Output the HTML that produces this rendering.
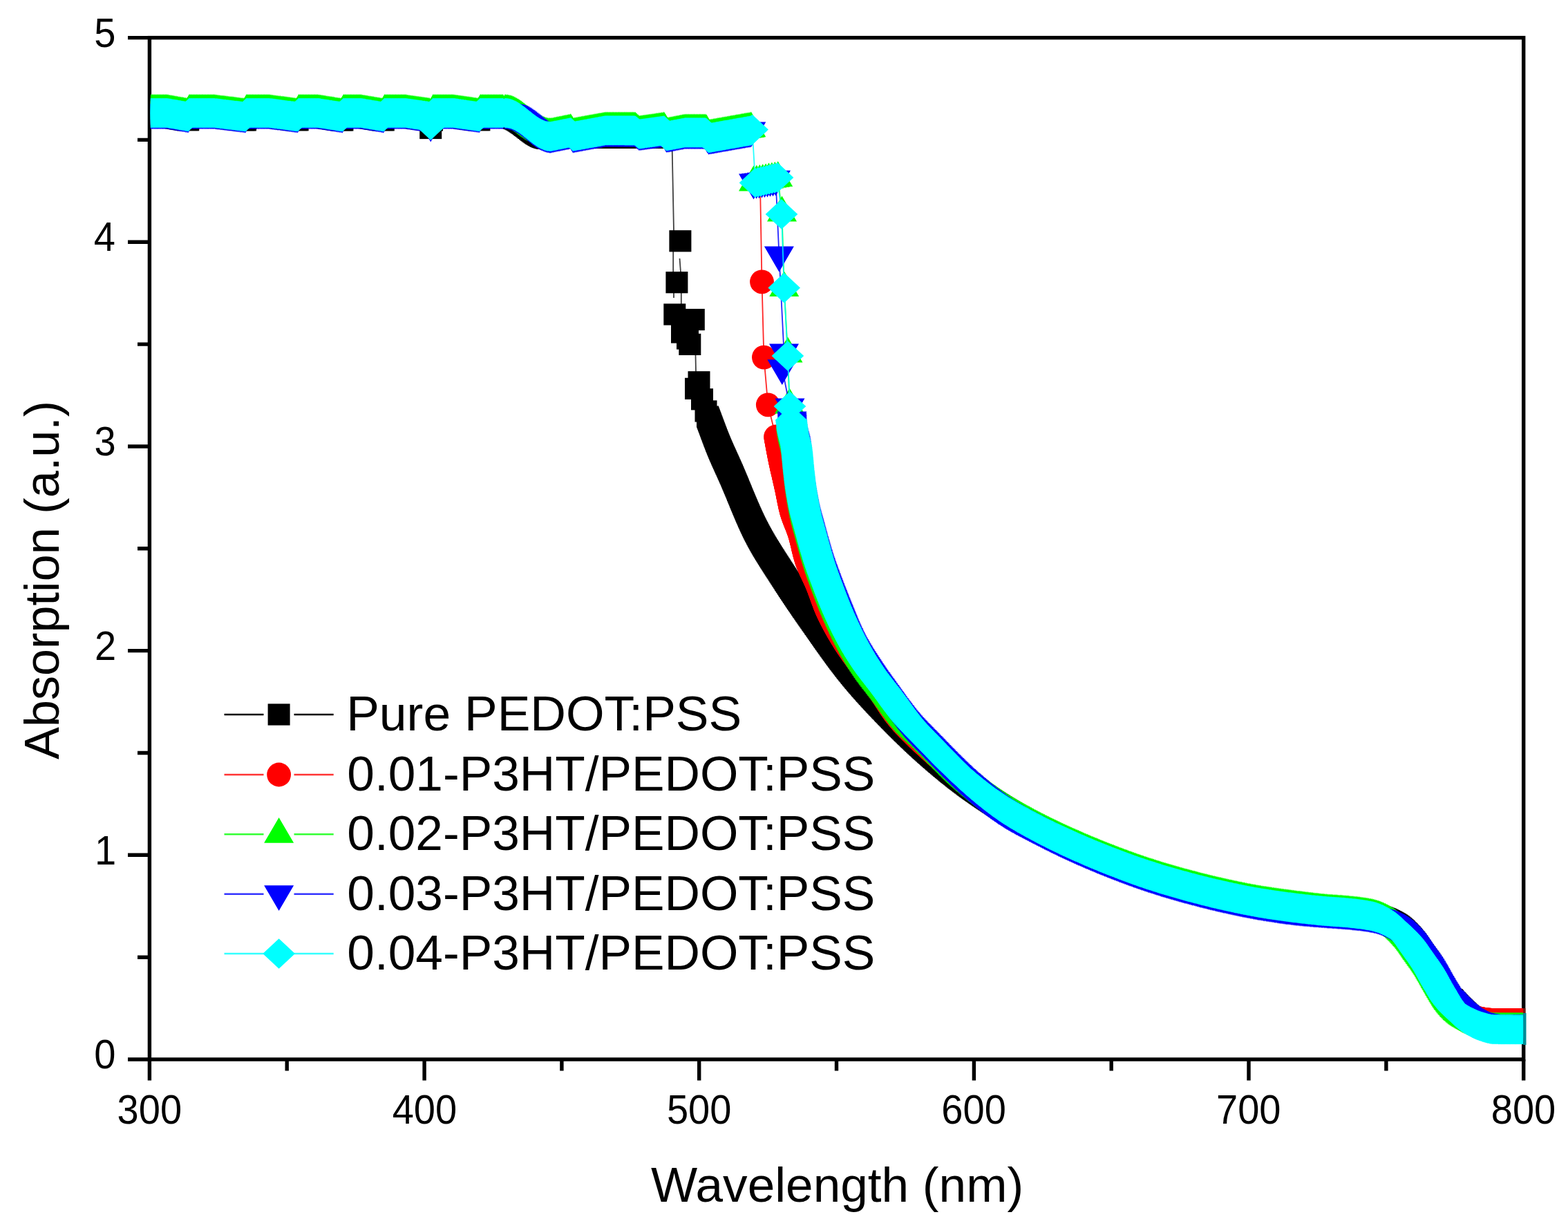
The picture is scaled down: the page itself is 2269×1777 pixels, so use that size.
<!DOCTYPE html>
<html><head><meta charset="utf-8"><title>Absorption spectra</title>
<style>html,body{margin:0;padding:0;background:#fff;overflow:hidden}svg{display:block}</style></head>
<body>
<svg width="2269" height="1777" viewBox="0 0 2269 1777">
<defs>
<marker id="m_black" markerUnits="userSpaceOnUse" markerWidth="60" markerHeight="60" viewBox="-30 -30 60 60" refX="0" refY="0" orient="0" overflow="visible"><g fill="#000"><rect x="-16" y="-15.6" width="32" height="31.2"/></g></marker>
<marker id="m_red" markerUnits="userSpaceOnUse" markerWidth="60" markerHeight="60" viewBox="-30 -30 60 60" refX="0" refY="0" orient="0" overflow="visible"><g fill="#f00"><ellipse rx="17.4" ry="17.4"/></g></marker>
<marker id="m_green" markerUnits="userSpaceOnUse" markerWidth="60" markerHeight="60" viewBox="-30 -30 60 60" refX="0" refY="0" orient="0" overflow="visible"><g fill="#0f0"><path d="M0-24.4L21.5,12.4H-21.5Z"/></g></marker>
<marker id="m_blue" markerUnits="userSpaceOnUse" markerWidth="60" markerHeight="60" viewBox="-30 -30 60 60" refX="0" refY="0" orient="0" overflow="visible"><g fill="#00f"><path d="M0,24.4L21.5-12.4H-21.5Z"/></g></marker>
<marker id="m_cyan" markerUnits="userSpaceOnUse" markerWidth="60" markerHeight="60" viewBox="-30 -30 60 60" refX="0" refY="0" orient="0" overflow="visible"><g fill="#0ff"><path d="M0-21.8L23.3,0L0,21.8L-23.3,0Z"/></g></marker>
<clipPath id="cp"><rect x="217.9" y="54.6" width="1986.2999999999997" height="1478.4"/></clipPath>
</defs>
<rect width="2269" height="1777" fill="#fff"/>
<g stroke="#000" stroke-width="5.4" fill="none" stroke-linecap="butt">
<rect x="216.4" y="54.6" width="1988.2999999999997" height="1478.4"/>
<path d="M216.4,1533v30.5M415.2,1533v16.5M614.1,1533v30.5M812.9,1533v16.5M1011.7,1533v30.5M1210.5,1533v16.5M1409.4,1533v30.5M1608.2,1533v16.5M1807,1533v30.5M2005.9,1533v16.5M2204.7,1533v30.5M216.4,1533h-31.4M216.4,1385.2h-17.4M216.4,1237.3h-31.4M216.4,1089.5h-17.4M216.4,941.6h-31.4M216.4,793.8h-17.4M216.4,646h-31.4M216.4,498.1h-17.4M216.4,350.3h-31.4M216.4,202.4h-17.4M216.4,54.6h-31.4"/>
</g>
<g clip-path="url(#cp)" fill="none" stroke-width="1.8" stroke-opacity=".85">
<path stroke="#000" stroke-opacity=".75" d="M972.6,212L975,334M974.2,364V394M983.5,374L985,394M985.8,424V440M975,424V431M1006.5,514L1007,538"/>
<polyline points="216.4,168.5 218.2,168.5 220,168.5 221.8,168.5 223.6,168.5 225.4,168.5 227.2,168.5 229,168.5 230.8,168.5 232.6,168.5 234.4,168.5 236.2,168.5 238,168.5 239.8,168.5 241.6,168.5 243.4,168.7 245.2,169.1 247,169.4 248.8,169.7 250.6,170 252.4,170.3 254.2,170.6 256,170.9 257.8,171.3 259.6,171.6 261.4,171.9 263.2,172.2 265,172.5 266.8,172.8 268.6,173.2 270.4,173.5 272.2,173.8 274,168.5 275.8,168.5 277.6,168.5 279.4,168.5 281.2,168.5 283,168.5 284.8,168.5 286.6,168.5 288.4,168.5 290.2,168.5 292,168.5 293.8,168.5 295.6,168.5 297.4,168.5 299.2,168.5 301,168.5 302.8,168.5 304.6,168.5 306.4,168.5 308.2,168.5 310,168.5 311.8,168.7 313.6,168.9 315.4,169.1 317.2,169.3 319,169.6 320.8,169.8 322.6,170 324.4,170.2 326.2,170.4 328,170.7 329.8,170.9 331.6,171.1 333.4,171.3 335.2,171.5 337,171.7 338.8,172 340.6,172.2 342.4,172.4 344.2,172.6 346,172.8 347.8,173.1 349.6,173.3 351.4,173.5 353.2,173.7 355,173.9 356.8,168.5 358.6,168.5 360.4,168.5 362.2,168.5 364,168.5 365.8,168.5 367.6,168.5 369.4,168.5 371.2,168.5 373,168.5 374.8,168.5 376.6,168.5 378.4,168.5 380.2,168.5 382,168.5 383.8,168.5 385.6,168.5 387.4,168.5 389.2,168.5 391,168.7 392.8,168.9 394.6,169.1 396.4,169.4 398.2,169.6 400,169.8 401.8,170.1 403.6,170.3 405.4,170.5 407.2,170.8 409,171 410.8,171.2 412.6,171.5 414.4,171.7 416.2,172 418,172.2 419.8,172.4 421.6,172.7 423.4,172.9 425.2,173.1 427,173.4 428.8,173.6 430.6,173.8 432.4,168.5 434.2,168.5 436,168.5 437.8,168.5 439.6,168.5 441.4,168.5 443.2,168.5 445,168.5 446.8,168.5 448.6,168.5 450.4,168.5 452.2,168.5 454,168.5 455.8,168.5 457.6,168.5 459.4,168.5 461.2,168.6 463,168.9 464.8,169.2 466.6,169.5 468.4,169.7 470.2,170 472,170.3 473.8,170.6 475.6,170.9 477.4,171.2 479.2,171.4 481,171.7 482.8,172 484.6,172.3 486.4,172.6 488.2,172.9 490,173.1 491.8,173.4 493.6,173.7 495.4,174 497.2,168.5 499,168.5 500.8,168.5 502.6,168.5 504.4,168.5 506.2,168.5 508,168.5 509.8,168.5 511.6,168.5 513.4,168.5 515.2,168.5 517,168.5 518.8,168.5 520.6,168.5 522.4,168.5 524.2,168.8 526,169.1 527.8,169.4 529.6,169.7 531.4,170 533.2,170.3 535,170.6 536.8,170.9 538.6,171.2 540.4,171.5 542.2,171.8 544,172.1 545.8,172.4 547.6,172.7 549.4,173 551.2,173.3 553,173.6 554.8,173.9 556.6,168.5 558.4,168.5 560.2,168.5 562,168.5 563.8,168.5 565.6,168.5 567.4,168.5 569.2,168.5 571,168.5 572.8,168.5 574.6,168.5 576.4,168.5 578.2,168.5 580,168.5 581.8,168.5 583.6,168.5 585.4,168.5 587.2,168.5 589,168.8 590.8,169.1 592.6,169.3 594.4,169.6 596.2,169.8 598,170.1 599.8,170.4 601.6,170.6 603.4,170.9 605.2,171.1 607,171.4 608.8,171.6 610.6,171.9 612.4,172.2 614.2,172.4 616,172.7 617.8,172.9 619.6,173.2 621.4,173.5 623.2,185.5 625,174 626.8,168.5 628.6,168.5 630.4,168.5 632.2,168.5 634,168.5 635.8,168.5 637.6,168.5 639.4,168.5 641.2,168.5 643,168.5 644.8,168.5 646.6,168.5 648.4,168.5 650.2,168.5 652,168.5 653.8,168.5 655.6,168.5 657.4,168.6 659.2,168.9 661,169.1 662.8,169.4 664.6,169.7 666.4,169.9 668.2,170.2 670,170.4 671.8,170.7 673.6,170.9 675.4,171.2 677.2,171.5 679,171.7 680.8,172 682.6,172.2 684.4,172.5 686.2,172.8 688,173 689.8,173.3 691.6,173.5 693.4,173.8 695.2,168.5 697,168.5 698.8,168.5 700.6,168.5 702.4,168.5 704.2,168.5 706,168.5 707.8,168.5 709.6,168.5 711.4,168.5 713.2,168.5 715,168.5 716.8,168.5 718.6,168.5 720.4,168.5 722.2,168.5 724,168.5 725.8,168.5 727.6,168.5 731,168.5 732.8,168.5 734.6,168.6 736.4,168.9 738.2,169.3 740,169.8 741.8,170.4 743.6,171.1 745.4,171.9 747.2,172.8 749,173.8 750.8,174.9 752.6,176.1 754.4,177.3 756.2,178.6 758,179.9 759.8,181.3 761.6,182.6 763.4,184 765.2,185.4 767,186.8 768.8,188.2 770.6,189.6 772.4,190.9 774.2,192.1 776,193.3 777.8,194.5 779.6,195.5 781.4,196.5 783.2,197.4 785,198.2 786.8,198.8 788.6,199.4 790.4,199.9 792.2,200.2 794,200.4 795.8,200.5 797,199.3 798.8,199.3 800.6,199.3 802.4,199.3 804.2,199.3 806,199.3 807.8,199.3 809.6,199.3 811.4,199.3 813.2,199.3 815,199.3 816.8,199.3 818.6,199.3 820.4,199.3 822.2,199.3 824,199.3 825.8,199.3 827.6,199.3 829.4,199.3 831.2,199.3 833,199.3 834.8,199.3 836.6,199.3 838.4,199.3 840.2,199.3 842,199.3 843.8,199.3 845.6,199.3 847.4,199.3 849.2,199.3 851,199.3 852.8,199.3 854.6,199.3 856.4,199.3 858.2,199.3 860,199.3 861.8,199.3 863.6,199.3 865.4,199.3 867.2,199.3 869,199.3 870.8,199.3 872.6,199.3 874.4,199.3 876.2,199.3 878,199.3 879.8,199.3 881.6,199.3 883.4,199.3 885.2,199.3 887,199.3 888.8,199.3 890.6,199.3 892.4,199.3 894.2,199.3 896,199.3 897.8,199.3 899.6,199.3 901.4,199.3 903.2,199.3 905,199.3 906.8,199.3 908.6,199.3 910.4,199.3 912.2,199.3 914,199.3 915.8,199.3 917.6,199.3 919.4,199.3 921.2,199.3 923,199.3 924.8,199.3 926.6,199.3 928.4,199.3 930.2,199.3 932,199.3 933.8,199.3 935.6,199.3 937.4,199.3 939.2,199.3 941,199.3 942.8,199.3 944.6,199.3 946.4,199.3 948.2,199.3 950,199.3 951.8,199.3 953.6,199.3 955.4,199.3 957.2,199.3 959,199.3 960.8,199.3 962.6,199.3 964.4,199.3 966.2,199.3 968,199.3 969.8,199.3 984.4,348.8 979.4,408.7 976.3,455 1003.8,462.5 987,481 995,490 998.3,498.4 1011.5,552.8 1007,562.4 1016,577.8 1021.5,595 1024,603 1024.6,604.7 1025.3,606.4 1025.9,608.1 1026.5,609.7 1027.2,611.4 1027.8,613.1 1028.4,614.8 1029.1,616.5 1029.7,618.2 1030.3,619.9 1030.9,621.5 1031.6,623.2 1032.2,624.9 1032.8,626.6 1033.5,628.3 1034.1,630 1034.7,631.7 1035.4,633.3 1036,635 1036.7,636.7 1037.3,638.4 1038,640 1038.7,641.7 1039.3,643.4 1040,645 1040.7,646.7 1041.4,648.4 1042.1,650 1042.8,651.7 1043.5,653.3 1044.3,655 1045,656.6 1045.7,658.3 1046.4,659.9 1047.2,661.6 1047.9,663.2 1048.7,664.8 1049.4,666.5 1050.1,668.1 1050.9,669.8 1051.6,671.4 1052.4,673 1053.1,674.7 1053.9,676.3 1054.6,678 1055.3,679.6 1056.1,681.2 1056.8,682.9 1057.5,684.5 1058.3,686.2 1059,687.8 1059.7,689.5 1060.4,691.1 1061.1,692.8 1061.8,694.5 1062.5,696.1 1063.2,697.8 1063.9,699.4 1064.6,701.1 1065.3,702.8 1066,704.4 1066.7,706.1 1067.4,707.7 1068,709.4 1068.7,711.1 1069.4,712.7 1070.1,714.4 1070.8,716.1 1071.5,717.7 1072.1,719.4 1072.8,721.1 1073.5,722.7 1074.2,724.4 1074.9,726.1 1075.6,727.7 1076.3,729.4 1077,731 1077.7,732.7 1078.4,734.4 1079.1,736 1079.8,737.7 1080.5,739.3 1081.2,741 1081.9,742.6 1082.7,744.3 1083.4,745.9 1084.1,747.6 1084.8,749.2 1085.6,750.8 1086.3,752.5 1087.1,754.1 1087.8,755.8 1088.6,757.4 1089.4,759 1090.1,760.6 1090.9,762.3 1091.7,763.9 1092.5,765.5 1093.3,767.1 1094.1,768.7 1095,770.3 1095.8,771.9 1096.6,773.5 1097.5,775.1 1098.3,776.7 1099.2,778.2 1100.1,779.8 1100.9,781.4 1101.8,783 1102.7,784.5 1103.6,786.1 1104.5,787.6 1105.4,789.2 1106.3,790.7 1107.3,792.3 1108.2,793.8 1109.1,795.4 1110.1,796.9 1111,798.4 1112,800 1112.9,801.5 1113.9,803 1114.8,804.6 1115.8,806.1 1116.7,807.6 1117.7,809.1 1118.7,810.6 1119.6,812.1 1120.6,813.7 1121.6,815.2 1122.6,816.7 1123.5,818.2 1124.5,819.7 1125.5,821.2 1126.5,822.7 1127.5,824.2 1128.4,825.7 1129.4,827.3 1130.4,828.8 1131.4,830.3 1132.4,831.8 1133.3,833.3 1134.3,834.8 1135.3,836.3 1136.3,837.8 1137.2,839.4 1138.2,840.9 1139.2,842.4 1140.2,843.9 1141.2,845.4 1142.1,846.9 1143.1,848.4 1144.1,849.9 1145.1,851.4 1146.1,852.9 1147.1,854.4 1148.1,855.9 1149.1,857.4 1150.1,858.9 1151.1,860.4 1152.1,861.9 1153.1,863.4 1154.1,864.9 1155.1,866.4 1156.1,867.9 1157.2,869.3 1158.2,870.8 1159.2,872.3 1160.2,873.8 1161.2,875.3 1162.2,876.8 1163.2,878.3 1164.3,879.7 1165.3,881.2 1166.3,882.7 1167.3,884.2 1168.4,885.7 1169.4,887.1 1170.4,888.6 1171.4,890.1 1172.5,891.6 1173.5,893 1174.5,894.5 1175.6,896 1176.6,897.5 1177.6,898.9 1178.7,900.4 1179.7,901.9 1180.7,903.4 1181.8,904.8 1182.8,906.3 1183.8,907.8 1184.9,909.3 1185.9,910.7 1186.9,912.2 1188,913.7 1189,915.2 1190,916.6 1191.1,918.1 1192.1,919.6 1193.1,921.1 1194.2,922.5 1195.2,924 1196.2,925.5 1197.3,926.9 1198.3,928.4 1199.4,929.9 1200.4,931.3 1201.5,932.8 1202.5,934.3 1203.5,935.7 1204.6,937.2 1205.7,938.7 1206.7,940.1 1207.8,941.6 1208.8,943 1209.9,944.5 1210.9,945.9 1212,947.4 1213.1,948.8 1214.2,950.3 1215.2,951.7 1216.3,953.2 1217.4,954.6 1218.5,956 1219.6,957.5 1220.7,958.9 1221.8,960.3 1222.9,961.8 1224,963.2 1225.1,964.6 1226.2,966 1227.3,967.4 1228.4,968.8 1229.5,970.2 1230.7,971.6 1231.8,973 1232.9,974.4 1234.1,975.8 1235.2,977.2 1236.4,978.6 1237.5,980 1238.7,981.4 1239.8,982.7 1241,984.1 1242.2,985.5 1243.3,986.9 1244.5,988.2 1245.7,989.6 1246.9,990.9 1248,992.3 1249.2,993.6 1250.4,995 1251.6,996.3 1252.8,997.7 1254,999 1255.2,1000.4 1256.4,1001.7 1257.6,1003 1258.8,1004.4 1260.1,1005.7 1261.3,1007 1262.5,1008.4 1263.7,1009.7 1264.9,1011 1266.2,1012.3 1267.4,1013.6 1268.6,1015 1269.8,1016.3 1271.1,1017.6 1272.3,1018.9 1273.5,1020.2 1274.8,1021.5 1276,1022.8 1277.3,1024.1 1278.5,1025.4 1279.8,1026.7 1281,1028 1282.2,1029.3 1283.5,1030.6 1284.7,1031.9 1286,1033.2 1287.3,1034.5 1288.5,1035.8 1289.8,1037.1 1291,1038.4 1292.3,1039.6 1293.5,1040.9 1294.8,1042.2 1296.1,1043.5 1297.3,1044.8 1298.6,1046.1 1299.9,1047.3 1301.1,1048.6 1302.4,1049.9 1303.7,1051.1 1305,1052.4 1306.2,1053.7 1307.5,1054.9 1308.8,1056.2 1310.1,1057.5 1311.4,1058.7 1312.7,1060 1314,1061.2 1315.3,1062.5 1316.6,1063.7 1317.9,1065 1319.2,1066.2 1320.5,1067.5 1321.8,1068.7 1323.1,1069.9 1324.4,1071.2 1325.7,1072.4 1327,1073.6 1328.3,1074.9 1329.6,1076.1 1331,1077.3 1332.3,1078.5 1333.6,1079.7 1334.9,1081 1336.3,1082.2 1337.6,1083.4 1338.9,1084.6 1340.3,1085.8 1341.6,1087 1343,1088.2 1344.3,1089.4 1345.7,1090.6 1347,1091.8 1348.4,1093 1349.7,1094.1 1351.1,1095.3 1352.4,1096.5 1353.8,1097.7 1355.1,1098.9 1356.5,1100 1357.9,1101.2 1359.2,1102.4 1360.6,1103.5 1362,1104.7 1363.4,1105.9 1364.7,1107 1366.1,1108.2 1367.5,1109.3 1368.9,1110.5 1370.3,1111.6 1371.7,1112.8 1373.1,1113.9 1374.4,1115.1 1375.8,1116.2 1377.2,1117.3 1378.6,1118.5 1380.1,1119.6 1381.5,1120.7 1382.9,1121.8 1384.3,1123 1385.7,1124.1 1387.1,1125.2 1388.5,1126.3 1390,1127.4 1391.4,1128.5 1392.8,1129.6 1394.2,1130.7 1395.7,1131.8 1397.1,1132.8 1398.6,1133.9 1400,1135 1401.4,1136.1 1402.9,1137.1 1404.3,1138.2 1405.8,1139.3 1407.3,1140.3 1408.7,1141.4 1410.2,1142.4 1411.6,1143.5 1413.1,1144.5 1414.6,1145.5 1416.1,1146.6 1417.5,1147.6 1419,1148.6 1420.5,1149.7 1422,1150.7 1423.5,1151.7 1425,1152.7 1426.4,1153.7 1427.9,1154.7 1429.4,1155.7 1430.9,1156.7 1432.4,1157.7 1433.9,1158.7 1435.4,1159.7 1436.9,1160.7 1438.5,1161.6 1440,1162.6 1441.5,1163.6 1443,1164.6 1444.5,1165.5 1446,1166.5 1447.6,1167.5 1449.1,1168.4 1450.6,1169.4 1452.1,1170.3 1453.7,1171.3 1455.2,1172.2 1456.7,1173.2 1458.3,1174.1 1459.8,1175 1461.3,1176 1462.9,1176.9 1464.4,1177.8 1466,1178.8 1467.5,1179.7 1469.1,1180.6 1470.6,1181.5 1472.2,1182.4 1473.7,1183.3 1475.3,1184.2 1476.8,1185.1 1478.4,1186 1480,1186.9 1481.5,1187.8 1483.1,1188.7 1484.7,1189.6 1486.2,1190.4 1487.8,1191.3 1489.4,1192.2 1491,1193 1492.6,1193.9 1494.1,1194.8 1495.7,1195.6 1497.3,1196.5 1498.9,1197.3 1500.5,1198.2 1502.1,1199 1503.7,1199.8 1505.3,1200.7 1506.9,1201.5 1508.5,1202.3 1510.1,1203.1 1511.7,1203.9 1513.3,1204.7 1514.9,1205.6 1516.5,1206.4 1518.1,1207.2 1519.7,1208 1521.3,1208.7 1523,1209.5 1524.6,1210.3 1526.2,1211.1 1527.8,1211.9 1529.5,1212.7 1531.1,1213.4 1532.7,1214.2 1534.3,1215 1536,1215.7 1537.6,1216.5 1539.2,1217.3 1540.9,1218 1542.5,1218.8 1544.1,1219.5 1545.8,1220.3 1547.4,1221 1549,1221.8 1550.7,1222.5 1552.3,1223.2 1554,1224 1555.6,1224.7 1557.3,1225.5 1558.9,1226.2 1560.5,1226.9 1562.2,1227.6 1563.8,1228.4 1565.5,1229.1 1567.1,1229.8 1568.8,1230.5 1570.4,1231.2 1572.1,1231.9 1573.8,1232.6 1575.4,1233.3 1577.1,1234 1578.7,1234.7 1580.4,1235.4 1582.1,1236.1 1583.7,1236.8 1585.4,1237.5 1587,1238.2 1588.7,1238.9 1590.4,1239.6 1592,1240.2 1593.7,1240.9 1595.4,1241.6 1597,1242.3 1598.7,1242.9 1600.4,1243.6 1602.1,1244.2 1603.7,1244.9 1605.4,1245.6 1607.1,1246.2 1608.8,1246.9 1610.4,1247.5 1612.1,1248.2 1613.8,1248.8 1615.5,1249.5 1617.2,1250.1 1618.8,1250.8 1620.5,1251.4 1622.2,1252 1623.9,1252.7 1625.6,1253.3 1627.3,1253.9 1629,1254.6 1630.6,1255.2 1632.3,1255.8 1634,1256.4 1635.7,1257.1 1637.4,1257.7 1639.1,1258.3 1640.8,1258.9 1642.5,1259.5 1644.2,1260.1 1645.9,1260.7 1647.6,1261.3 1649.3,1261.9 1651,1262.5 1652.7,1263 1654.4,1263.6 1656.1,1264.2 1657.8,1264.8 1659.5,1265.3 1661.2,1265.9 1662.9,1266.5 1664.6,1267 1666.4,1267.6 1668.1,1268.1 1669.8,1268.7 1671.5,1269.2 1673.2,1269.8 1674.9,1270.3 1676.6,1270.8 1678.4,1271.4 1680.1,1271.9 1681.8,1272.4 1683.5,1272.9 1685.3,1273.5 1687,1274 1688.7,1274.5 1690.4,1275 1692.2,1275.5 1693.9,1276 1695.6,1276.5 1697.3,1277 1699.1,1277.5 1700.8,1278 1702.5,1278.5 1704.3,1279 1706,1279.5 1707.7,1280 1709.5,1280.5 1711.2,1281 1712.9,1281.4 1714.7,1281.9 1716.4,1282.4 1718.1,1282.9 1719.9,1283.3 1721.6,1283.8 1723.4,1284.3 1725.1,1284.7 1726.8,1285.2 1728.6,1285.6 1730.3,1286.1 1732.1,1286.6 1733.8,1287 1735.5,1287.5 1737.3,1287.9 1739,1288.4 1740.8,1288.8 1742.5,1289.3 1744.3,1289.7 1746,1290.1 1747.8,1290.6 1749.5,1291 1751.2,1291.4 1753,1291.8 1754.7,1292.3 1756.5,1292.7 1758.2,1293.1 1760,1293.5 1761.8,1293.9 1763.5,1294.3 1765.3,1294.7 1767,1295.1 1768.8,1295.5 1770.5,1295.9 1772.3,1296.3 1774,1296.7 1775.8,1297.1 1777.6,1297.5 1779.3,1297.9 1781.1,1298.2 1782.8,1298.6 1784.6,1299 1786.4,1299.4 1788.1,1299.7 1789.9,1300.1 1791.6,1300.5 1793.4,1300.9 1795.2,1301.2 1796.9,1301.6 1798.7,1301.9 1800.5,1302.3 1802.2,1302.6 1804,1303 1805.8,1303.3 1807.5,1303.7 1809.3,1304 1811.1,1304.3 1812.8,1304.7 1814.6,1305 1816.4,1305.3 1818.1,1305.6 1819.9,1305.9 1821.7,1306.2 1823.5,1306.5 1825.2,1306.8 1827,1307.1 1828.8,1307.4 1830.6,1307.7 1832.4,1308 1834.1,1308.3 1835.9,1308.6 1837.7,1308.8 1839.5,1309.1 1841.2,1309.4 1843,1309.6 1844.8,1309.9 1846.6,1310.2 1848.4,1310.4 1850.1,1310.7 1851.9,1311 1853.7,1311.2 1855.5,1311.5 1857.3,1311.7 1859.1,1311.9 1860.8,1312.2 1862.6,1312.4 1864.4,1312.6 1866.2,1312.9 1868,1313.1 1869.8,1313.3 1871.6,1313.5 1873.3,1313.7 1875.1,1314 1876.9,1314.2 1878.7,1314.4 1880.5,1314.6 1882.3,1314.7 1884.1,1314.9 1885.9,1315.1 1887.7,1315.3 1889.5,1315.5 1891.2,1315.6 1893,1315.8 1894.8,1316 1896.6,1316.1 1898.4,1316.3 1900.2,1316.5 1902,1316.6 1903.8,1316.8 1905.6,1316.9 1907.4,1317.1 1909.2,1317.2 1911,1317.4 1912.8,1317.5 1914.6,1317.7 1916.4,1317.8 1918.1,1318 1919.9,1318.1 1921.7,1318.3 1923.5,1318.4 1925.3,1318.6 1927.1,1318.7 1928.9,1318.8 1930.7,1319 1932.5,1319.1 1934.3,1319.2 1936.1,1319.4 1937.9,1319.5 1939.7,1319.6 1941.5,1319.7 1943.3,1319.9 1945.1,1320 1946.9,1320.1 1948.7,1320.3 1950.5,1320.4 1952.2,1320.5 1954,1320.7 1955.8,1320.9 1957.6,1321 1959.4,1321.2 1961.2,1321.4 1963,1321.6 1964.8,1321.8 1966.6,1322 1968.4,1322.2 1970.2,1322.4 1971.9,1322.6 1973.7,1322.8 1975.5,1323.1 1977.3,1323.3 1979.1,1323.6 1980.9,1323.9 1982.6,1324.1 1984.4,1324.4 1986.2,1324.8 1987.9,1325.1 1989.7,1325.4 1991.5,1325.8 1993.2,1326.2 1995,1326.7 1996.7,1327.2 1998.4,1327.7 2000.1,1328.3 2001.8,1329 2003.5,1329.6 2005.1,1330.3 2006.8,1331.1 2008.4,1331.9 2010,1332.7 2011.6,1333.5 2013.2,1334.3 2014.8,1335.2 2016.3,1336.1 2017.9,1337 2019.4,1337.9 2020.9,1338.9 2022.4,1339.9 2023.9,1341 2025.3,1342.1 2026.7,1343.2 2028.1,1344.4 2029.4,1345.6 2030.7,1346.8 2032,1348 2033.3,1349.3 2034.6,1350.6 2035.8,1351.9 2037.1,1353.2 2038.3,1354.5 2039.5,1355.8 2040.7,1357.1 2041.9,1358.5 2043.1,1359.9 2044.2,1361.3 2045.3,1362.7 2046.4,1364.1 2047.5,1365.6 2048.5,1367 2049.6,1368.5 2050.6,1370 2051.6,1371.5 2052.6,1372.9 2053.6,1374.4 2054.7,1375.9 2055.7,1377.4 2056.7,1378.9 2057.8,1380.4 2058.8,1381.8 2059.9,1383.3 2060.9,1384.7 2062,1386.2 2063,1387.7 2064.1,1389.1 2065.1,1390.6 2066.2,1392 2067.2,1393.5 2068.2,1395 2069.2,1396.5 2070.2,1398 2071.2,1399.5 2072.1,1401 2073.1,1402.6 2074,1404.1 2074.9,1405.7 2075.8,1407.2 2076.7,1408.8 2077.6,1410.4 2078.5,1411.9 2079.3,1413.5 2080.2,1415.1 2081.1,1416.7 2081.9,1418.2 2082.8,1419.8 2083.7,1421.4 2084.6,1423 2085.5,1424.5 2086.4,1426.1 2087.3,1427.6 2088.2,1429.2 2089.1,1430.7 2090.1,1432.2 2091,1433.8 2092,1435.3 2092.9,1436.8 2093.9,1438.4 2094.8,1439.9 2095.8,1441.4 2096.7,1442.9 2097.7,1444.5 2098.7,1446 2099.6,1447.5 2100.6,1449 2101.6,1450.5 2102.5,1451.9 2101.8,1450.3 2101.1,1448.6 2100.4,1447 2100.6,1446.6 2101.8,1447.9 2103,1449.3 2104.2,1450.6 2105.4,1451.9 2106.6,1453.2 2107.9,1454.5 2109.1,1455.8 2110.4,1457.1 2111.7,1458.4 2113,1459.6 2114.3,1460.9 2115.6,1462.1 2116.8,1463.4 2118.1,1464.6 2119.5,1465.9 2120.8,1467.1 2122.1,1468.3 2123.5,1469.4 2124.9,1470.6 2126.4,1471.6 2127.8,1472.7 2129.4,1473.6 2130.9,1474.5 2132.5,1475.4 2134.1,1476.2 2135.7,1477 2137.3,1477.8 2139,1478.5 2140.7,1479.2 2142.4,1479.8 2144.1,1480.3 2145.8,1480.7 2147.6,1481.1 2149.4,1481.4 2151.1,1481.8 2152.9,1482.1 2154.7,1482.3 2156.5,1482.6 2158.3,1482.8 2160,1482.9 2161.8,1483 2163.6,1483 2165.4,1483 2167.2,1483 2169,1483 2170.8,1483 2172.6,1483 2174.4,1483 2176.2,1483 2178,1483 2179.8,1483 2181.6,1483 2183.4,1483 2185.2,1483 2187,1483 2188.8,1483 2190.6,1483 2192.4,1483 2194.2,1483 2196,1483 2197.8,1483 2199.6,1483 2201.4,1483 2203.2,1483 2205,1483" stroke="none" marker-start="url(#m_black)" marker-mid="url(#m_black)" marker-end="url(#m_black)"/>
<polyline points="216.4,163.5 218.2,163.5 220,163.5 221.8,163.5 223.6,163.5 225.4,163.5 227.2,163.5 229,163.5 230.8,163.5 232.6,163.5 234.4,163.5 236.2,163.5 238,163.5 239.8,163.5 241.6,163.5 243.4,163.7 245.2,164.1 247,164.4 248.8,164.7 250.6,165 252.4,165.3 254.2,165.6 256,165.9 257.8,166.3 259.6,166.6 261.4,166.9 263.2,167.2 265,167.5 266.8,167.8 268.6,168.2 270.4,168.5 272.2,168.8 274,163.5 275.8,163.5 277.6,163.5 279.4,163.5 281.2,163.5 283,163.5 284.8,163.5 286.6,163.5 288.4,163.5 290.2,163.5 292,163.5 293.8,163.5 295.6,163.5 297.4,163.5 299.2,163.5 301,163.5 302.8,163.5 304.6,163.5 306.4,163.5 308.2,163.5 310,163.5 311.8,163.7 313.6,163.9 315.4,164.1 317.2,164.3 319,164.6 320.8,164.8 322.6,165 324.4,165.2 326.2,165.4 328,165.7 329.8,165.9 331.6,166.1 333.4,166.3 335.2,166.5 337,166.7 338.8,167 340.6,167.2 342.4,167.4 344.2,167.6 346,167.8 347.8,168.1 349.6,168.3 351.4,168.5 353.2,168.7 355,168.9 356.8,163.5 358.6,163.5 360.4,163.5 362.2,163.5 364,163.5 365.8,163.5 367.6,163.5 369.4,163.5 371.2,163.5 373,163.5 374.8,163.5 376.6,163.5 378.4,163.5 380.2,163.5 382,163.5 383.8,163.5 385.6,163.5 387.4,163.5 389.2,163.5 391,163.7 392.8,163.9 394.6,164.1 396.4,164.4 398.2,164.6 400,164.8 401.8,165.1 403.6,165.3 405.4,165.5 407.2,165.8 409,166 410.8,166.2 412.6,166.5 414.4,166.7 416.2,167 418,167.2 419.8,167.4 421.6,167.7 423.4,167.9 425.2,168.1 427,168.4 428.8,168.6 430.6,168.8 432.4,163.5 434.2,163.5 436,163.5 437.8,163.5 439.6,163.5 441.4,163.5 443.2,163.5 445,163.5 446.8,163.5 448.6,163.5 450.4,163.5 452.2,163.5 454,163.5 455.8,163.5 457.6,163.5 459.4,163.5 461.2,163.6 463,163.9 464.8,164.2 466.6,164.5 468.4,164.7 470.2,165 472,165.3 473.8,165.6 475.6,165.9 477.4,166.2 479.2,166.4 481,166.7 482.8,167 484.6,167.3 486.4,167.6 488.2,167.9 490,168.1 491.8,168.4 493.6,168.7 495.4,169 497.2,163.5 499,163.5 500.8,163.5 502.6,163.5 504.4,163.5 506.2,163.5 508,163.5 509.8,163.5 511.6,163.5 513.4,163.5 515.2,163.5 517,163.5 518.8,163.5 520.6,163.5 522.4,163.5 524.2,163.8 526,164.1 527.8,164.4 529.6,164.7 531.4,165 533.2,165.3 535,165.6 536.8,165.9 538.6,166.2 540.4,166.5 542.2,166.8 544,167.1 545.8,167.4 547.6,167.7 549.4,168 551.2,168.3 553,168.6 554.8,168.9 556.6,163.5 558.4,163.5 560.2,163.5 562,163.5 563.8,163.5 565.6,163.5 567.4,163.5 569.2,163.5 571,163.5 572.8,163.5 574.6,163.5 576.4,163.5 578.2,163.5 580,163.5 581.8,163.5 583.6,163.5 585.4,163.5 587.2,163.5 589,163.8 590.8,164.1 592.6,164.3 594.4,164.6 596.2,164.8 598,165.1 599.8,165.4 601.6,165.6 603.4,165.9 605.2,166.1 607,166.4 608.8,166.6 610.6,166.9 612.4,167.2 614.2,167.4 616,167.7 617.8,167.9 619.6,168.2 621.4,168.5 623.2,178.5 625,169 626.8,163.5 628.6,163.5 630.4,163.5 632.2,163.5 634,163.5 635.8,163.5 637.6,163.5 639.4,163.5 641.2,163.5 643,163.5 644.8,163.5 646.6,163.5 648.4,163.5 650.2,163.5 652,163.5 653.8,163.5 655.6,163.5 657.4,163.6 659.2,163.9 661,164.1 662.8,164.4 664.6,164.7 666.4,164.9 668.2,165.2 670,165.4 671.8,165.7 673.6,165.9 675.4,166.2 677.2,166.5 679,166.7 680.8,167 682.6,167.2 684.4,167.5 686.2,167.8 688,168 689.8,168.3 691.6,168.5 693.4,168.8 695.2,163.5 697,163.5 698.8,163.5 700.6,163.5 702.4,163.5 704.2,163.5 706,163.5 707.8,163.5 709.6,163.5 711.4,163.5 713.2,163.5 715,163.5 716.8,163.5 718.6,163.5 720.4,163.5 722.2,163.5 724,163.5 725.8,163.5 727.6,163.5 731,163.5 732.8,163.6 734.6,163.7 736.4,164.1 738.2,164.5 740,165 741.8,165.7 743.6,166.5 745.4,167.3 747.2,168.3 749,169.4 750.8,170.5 752.6,171.7 754.4,173 756.2,174.3 758,175.7 759.8,177.1 761.6,178.6 763.4,180 765.2,181.5 767,182.9 768.8,184.4 770.6,185.8 772.4,187.1 774.2,188.4 776,189.7 777.8,190.9 779.6,192 781.4,193 783.2,194 785,194.8 786.8,195.5 788.6,196.2 790.4,196.7 792.2,197.1 794,197.3 795.8,197.5 797,197.5 798.8,197.1 800.6,196.8 802.4,196.4 804.2,196.1 806,195.7 807.8,195.3 809.6,195 811.4,194.6 813.2,194.3 815,193.9 816.8,193.5 818.6,193.2 820.4,192.8 822.2,192.5 824,192.1 825.8,191.7 827.6,194.7 829.4,197.3 831.2,197 833,196.7 834.8,196.3 836.6,196 838.4,195.7 840.2,195.4 842,195 843.8,194.7 845.6,194.4 847.4,194 849.2,193.7 851,193.4 852.8,193 854.6,192.7 856.4,192.4 858.2,192.1 860,191.7 861.8,191.4 863.6,191.1 865.4,190.7 867.2,190.4 869,190.1 870.8,189.8 872.6,189.4 874.4,189.1 876.2,188.8 878,188.8 879.8,188.8 881.6,188.8 883.4,188.8 885.2,188.8 887,188.8 888.8,188.8 890.6,188.8 892.4,188.8 894.2,188.8 896,188.8 897.8,188.8 899.6,188.8 901.4,188.8 903.2,188.8 905,188.9 906.8,188.9 908.6,188.9 910.4,188.9 912.2,188.9 914,188.9 915.8,188.9 917.6,188.9 919.4,189.2 921.2,190.8 923,192.4 924.8,193.9 926.6,193.9 928.4,193.6 930.2,193.4 932,193.1 933.8,192.8 935.6,192.6 937.4,192.3 939.2,192.1 941,191.8 942.8,191.6 944.6,191.3 946.4,191.1 948.2,190.8 950,190.5 951.8,190.3 953.6,190 955.4,189.8 957.2,189.5 959,189.3 960.8,189 962.6,191.7 964.4,196.7 966.2,196.7 968,196.3 969.8,196 971.6,195.6 973.4,195.3 975.2,194.9 977,194.6 978.8,194.2 980.6,193.9 982.4,193.6 984.2,193.2 986,192.9 987.8,192.5 989.6,192.2 991.4,191.9 993.2,191.9 995,191.9 996.8,191.9 998.6,191.9 1000.4,191.9 1002.2,191.9 1004,191.9 1005.8,191.9 1007.6,191.9 1009.4,191.9 1011.2,191.9 1013,191.9 1014.8,191.9 1016.6,191.9 1018.4,191.9 1020.2,191.9 1022,192.5 1023.8,197.4 1025.6,199.7 1027.4,199.4 1029.2,199.1 1031,198.8 1032.8,198.5 1034.6,198.2 1036.4,197.8 1038.2,197.5 1040,197.2 1041.8,196.9 1043.6,196.6 1045.4,196.2 1047.2,195.9 1049,195.6 1050.8,195.3 1052.6,195 1054.4,194.7 1056.2,194.3 1058,194 1059.8,193.7 1061.6,193.4 1063.4,193.1 1065.2,192.7 1067,192.4 1068.8,192.1 1070.6,191.8 1072.4,191.5 1074.2,191.2 1076,190.8 1077.8,190.5 1079.6,190.2 1081.4,189.9" stroke="#f00" marker-start="url(#m_red)" marker-mid="url(#m_red)" marker-end="url(#m_red)"/>
<polyline points="1095.5,263.5 1096.6,263.2 1097.7,262.9 1098.8,262.6 1099.9,262.3 1102.5,407.8 1105.4,517.1 1111.3,585.8 1122.6,632 1122.9,633.8 1123.3,635.5 1123.6,637.3 1123.9,639.1 1124.2,640.8 1124.6,642.6 1124.9,644.4 1125.2,646.2 1125.5,647.9 1125.9,649.7 1126.2,651.5 1126.5,653.2 1126.9,655 1127.2,656.8 1127.6,658.5 1127.9,660.3 1128.2,662.1 1128.6,663.8 1129,665.6 1129.3,667.4 1129.7,669.1 1130.1,670.9 1130.5,672.6 1130.9,674.4 1131.2,676.2 1131.6,677.9 1132,679.7 1132.5,681.4 1132.9,683.2 1133.3,684.9 1133.7,686.7 1134.1,688.4 1134.5,690.2 1134.9,691.9 1135.3,693.7 1135.7,695.4 1136.1,697.2 1136.5,698.9 1136.9,700.7 1137.3,702.5 1137.7,704.2 1138.1,706 1138.5,707.7 1138.9,709.5 1139.2,711.3 1139.6,713 1139.9,714.8 1140.3,716.6 1140.6,718.3 1141,720.1 1141.3,721.9 1141.7,723.6 1142,725.4 1142.4,727.1 1142.8,728.9 1143.1,730.7 1143.5,732.4 1143.9,734.2 1144.4,735.9 1144.8,737.7 1145.2,739.4 1145.7,741.2 1146.2,742.9 1146.8,744.6 1147.4,746.3 1148,748 1148.6,749.7 1149.2,751.4 1149.9,753.1 1150.5,754.7 1151.2,756.4 1151.9,758.1 1152.5,759.7 1153.2,761.4 1153.9,763.1 1154.5,764.8 1155.1,766.5 1155.8,768.1 1156.3,769.8 1156.9,771.5 1157.5,773.3 1158,775 1158.5,776.7 1158.9,778.5 1159.4,780.2 1159.8,781.9 1160.3,783.7 1160.7,785.4 1161.1,787.2 1161.5,788.9 1161.9,790.7 1162.3,792.5 1162.7,794.2 1163.2,796 1163.6,797.7 1164,799.5 1164.5,801.2 1164.9,802.9 1165.4,804.7 1165.9,806.4 1166.4,808.1 1166.9,809.8 1167.5,811.5 1168.1,813.2 1168.8,814.9 1169.4,816.6 1170.1,818.3 1170.8,819.9 1171.5,821.6 1172.2,823.2 1173,824.9 1173.7,826.5 1174.5,828.1 1175.3,829.8 1176.1,831.4 1176.8,833 1177.6,834.6 1178.4,836.3 1179.1,837.9 1179.9,839.5 1180.6,841.2 1181.4,842.8 1182.1,844.5 1182.8,846.1 1183.4,847.8 1184.1,849.5 1184.8,851.1 1185.4,852.8 1186,854.5 1186.6,856.2 1187.3,857.9 1187.9,859.6 1188.5,861.3 1189.1,863 1189.7,864.7 1190.3,866.4 1190.9,868.1 1191.5,869.7 1192.2,871.4 1192.8,873.1 1193.4,874.8 1194.1,876.5 1194.8,878.1 1195.4,879.8 1196.2,881.5 1196.9,883.1 1197.6,884.8 1198.4,886.4 1199.1,888 1199.9,889.7 1200.7,891.3 1201.5,892.9 1202.3,894.5 1203.1,896.1 1203.9,897.7 1204.7,899.3 1205.6,900.9 1206.4,902.5 1207.3,904.1 1208.1,905.7 1209,907.2 1209.9,908.8 1210.7,910.4 1211.6,911.9 1212.5,913.5 1213.4,915.1 1214.3,916.6 1215.2,918.2 1216.2,919.7 1217.1,921.3 1218,922.8 1219,924.3 1219.9,925.9 1220.8,927.4 1221.8,928.9 1222.7,930.5 1223.7,932 1224.7,933.5 1225.7,935 1226.7,936.5 1227.7,938 1228.7,939.5 1229.7,940.9 1230.8,942.4 1231.8,943.9 1232.9,945.4 1233.9,946.8 1235,948.3 1236,949.7 1237.1,951.2 1238.2,952.6 1239.2,954.1 1240.3,955.5 1241.4,957 1242.4,958.4 1243.5,959.9 1244.6,961.3 1245.6,962.8 1246.7,964.2 1247.8,965.7 1248.8,967.1 1249.9,968.6 1250.9,970 1252,971.5 1253.1,972.9 1254.1,974.4 1255.2,975.8 1256.3,977.3 1257.4,978.7 1258.5,980.2 1259.5,981.6 1260.6,983 1261.7,984.5 1262.8,985.9 1263.8,987.4 1264.9,988.8 1266,990.3 1267,991.7 1268.1,993.2 1269.2,994.6 1270.2,996.1 1271.3,997.5 1272.3,999 1273.3,1000.5 1274.4,1002 1275.4,1003.5 1276.4,1005 1277.4,1006.5 1278.3,1008 1279.3,1009.5 1280.3,1011 1281.2,1012.5 1282.2,1014 1283.2,1015.6 1284.1,1017.1 1285.1,1018.6 1286.1,1020.1 1287,1021.6 1288,1023.1 1289,1024.6 1290,1026.1 1291,1027.6 1292.1,1029.1 1293.1,1030.6 1294.2,1032 1295.2,1033.5 1296.4,1034.9 1297.5,1036.3 1298.6,1037.7 1299.8,1039.1 1300.9,1040.5 1302.1,1041.8 1303.3,1043.2 1304.4,1044.5 1305.6,1045.9 1306.8,1047.2 1308.1,1048.5 1309.3,1049.9 1310.5,1051.2 1311.7,1052.5 1313,1053.8 1314.2,1055.1 1315.5,1056.4 1316.8,1057.7 1318,1058.9 1319.3,1060.2 1320.6,1061.5 1321.9,1062.7 1323.1,1064 1324.4,1065.3 1325.7,1066.5 1327,1067.7 1328.3,1069 1329.6,1070.2 1331,1071.5 1332.3,1072.7 1333.6,1073.9 1334.9,1075.1 1336.2,1076.4 1337.6,1077.6 1338.9,1078.8 1340.2,1080 1341.5,1081.2 1342.9,1082.4 1344.2,1083.6 1345.5,1084.9 1346.9,1086.1 1348.2,1087.3 1349.5,1088.5 1350.9,1089.7 1352.2,1090.9 1353.6,1092.1 1354.9,1093.3 1356.3,1094.5 1357.6,1095.6 1359,1096.8 1360.4,1098 1361.7,1099.1 1363.1,1100.3 1364.5,1101.4 1365.9,1102.6 1367.3,1103.7 1368.7,1104.9 1370,1106 1371.4,1107.2 1372.8,1108.3 1374.2,1109.4 1375.6,1110.6 1377,1111.7 1378.4,1112.8 1379.8,1114 1381.3,1115.1 1382.7,1116.2 1384.1,1117.3 1385.5,1118.4 1386.9,1119.6 1388.3,1120.7 1389.7,1121.8 1391.1,1122.9 1392.5,1124 1393.9,1125.2 1395.3,1126.3 1396.8,1127.4 1398.2,1128.5 1399.6,1129.7 1401,1130.8 1402.4,1131.9 1403.8,1133 1405.2,1134.2 1406.6,1135.3 1408,1136.5 1409.3,1137.6 1410.7,1138.7 1412.1,1139.9 1413.5,1141 1414.9,1142.2 1416.3,1143.3 1417.7,1144.4 1419.1,1145.6 1420.5,1146.7 1421.9,1147.9 1423.3,1149 1424.7,1150.1 1426.1,1151.2 1427.5,1152.4 1428.9,1153.5 1430.3,1154.6 1431.7,1155.7 1433.2,1156.8 1434.6,1157.9 1436,1159 1437.5,1160.1 1438.9,1161.2 1440.3,1162.2 1441.8,1163.3 1443.3,1164.3 1444.7,1165.4 1446.2,1166.4 1447.7,1167.4 1449.2,1168.4 1450.7,1169.4 1452.2,1170.4 1453.7,1171.4 1455.2,1172.4 1456.7,1173.4 1458.2,1174.3 1459.8,1175.3 1461.3,1176.2 1462.8,1177.2 1464.4,1178.1 1465.9,1179 1467.5,1179.9 1469,1180.8 1470.6,1181.7 1472.1,1182.6 1473.7,1183.5 1475.3,1184.4 1476.8,1185.3 1478.4,1186.2 1480,1187.1 1481.5,1188 1483.1,1188.8 1484.7,1189.7 1486.3,1190.6 1487.9,1191.4 1489.4,1192.3 1491,1193.1 1492.6,1194 1494.2,1194.8 1495.8,1195.7 1497.4,1196.5 1499,1197.4 1500.6,1198.2 1502.1,1199 1503.7,1199.9 1505.3,1200.7 1506.9,1201.5 1508.5,1202.3 1510.1,1203.2 1511.8,1204 1513.4,1204.8 1515,1205.6 1516.6,1206.4 1518.2,1207.2 1519.8,1208 1521.4,1208.8 1523,1209.6 1524.7,1210.4 1526.3,1211.1 1527.9,1211.9 1529.5,1212.7 1531.1,1213.5 1532.8,1214.2 1534.4,1215 1536,1215.8 1537.7,1216.5 1539.3,1217.3 1540.9,1218.1 1542.6,1218.8 1544.2,1219.6 1545.8,1220.3 1547.5,1221.1 1549.1,1221.8 1550.8,1222.5 1552.4,1223.3 1554,1224 1555.7,1224.8 1557.3,1225.5 1559,1226.2 1560.6,1226.9 1562.3,1227.7 1563.9,1228.4 1565.6,1229.1 1567.2,1229.8 1568.9,1230.5 1570.5,1231.2 1572.2,1232 1573.8,1232.7 1575.5,1233.4 1577.1,1234.1 1578.8,1234.8 1580.5,1235.5 1582.1,1236.2 1583.8,1236.8 1585.5,1237.5 1587.1,1238.2 1588.8,1238.9 1590.4,1239.6 1592.1,1240.3 1593.8,1240.9 1595.5,1241.6 1597.1,1242.3 1598.8,1242.9 1600.5,1243.6 1602.1,1244.3 1603.8,1244.9 1605.5,1245.6 1607.2,1246.2 1608.8,1246.9 1610.5,1247.6 1612.2,1248.2 1613.9,1248.9 1615.6,1249.5 1617.2,1250.1 1618.9,1250.8 1620.6,1251.4 1622.3,1252.1 1624,1252.7 1625.7,1253.3 1627.3,1254 1629,1254.6 1630.7,1255.2 1632.4,1255.8 1634.1,1256.5 1635.8,1257.1 1637.5,1257.7 1639.2,1258.3 1640.9,1258.9 1642.6,1259.5 1644.3,1260.1 1646,1260.7 1647.7,1261.3 1649.4,1261.9 1651.1,1262.5 1652.8,1263.1 1654.5,1263.6 1656.2,1264.2 1657.9,1264.8 1659.6,1265.4 1661.3,1265.9 1663,1266.5 1664.7,1267 1666.4,1267.6 1668.1,1268.1 1669.9,1268.7 1671.6,1269.2 1673.3,1269.8 1675,1270.3 1676.7,1270.9 1678.4,1271.4 1680.2,1271.9 1681.9,1272.4 1683.6,1273 1685.3,1273.5 1687.1,1274 1688.8,1274.5 1690.5,1275 1692.2,1275.5 1694,1276 1695.7,1276.6 1697.4,1277.1 1699.1,1277.6 1700.9,1278 1702.6,1278.5 1704.3,1279 1706.1,1279.5 1707.8,1280 1709.5,1280.5 1711.3,1281 1713,1281.5 1714.7,1281.9 1716.5,1282.4 1718.2,1282.9 1720,1283.3 1721.7,1283.8 1723.4,1284.3 1725.2,1284.7 1726.9,1285.2 1728.6,1285.7 1730.4,1286.1 1732.1,1286.6 1733.9,1287 1735.6,1287.5 1737.4,1287.9 1739.1,1288.4 1740.8,1288.8 1742.6,1289.3 1744.3,1289.7 1746.1,1290.1 1747.8,1290.6 1749.6,1291 1751.3,1291.4 1753.1,1291.9 1754.8,1292.3 1756.6,1292.7 1758.3,1293.1 1760.1,1293.5 1761.8,1293.9 1763.6,1294.3 1765.3,1294.7 1767.1,1295.1 1768.9,1295.5 1770.6,1295.9 1772.4,1296.3 1774.1,1296.7 1775.9,1297.1 1777.6,1297.5 1779.4,1297.9 1781.2,1298.3 1782.9,1298.6 1784.7,1299 1786.4,1299.4 1788.2,1299.8 1790,1300.1 1791.7,1300.5 1793.5,1300.9 1795.2,1301.2 1797,1301.6 1798.8,1302 1800.5,1302.3 1802.3,1302.7 1804.1,1303 1805.8,1303.4 1807.6,1303.7 1809.4,1304 1811.1,1304.4 1812.9,1304.7 1814.7,1305 1816.5,1305.3 1818.2,1305.6 1820,1306 1821.8,1306.3 1823.5,1306.6 1825.3,1306.9 1827.1,1307.1 1828.9,1307.4 1830.7,1307.7 1832.4,1308 1834.2,1308.3 1836,1308.6 1837.8,1308.8 1839.5,1309.1 1841.3,1309.4 1843.1,1309.6 1844.9,1309.9 1846.7,1310.2 1848.4,1310.4 1850.2,1310.7 1852,1310.9 1853.8,1311.2 1855.6,1311.4 1857.4,1311.7 1859.1,1311.9 1860.9,1312.1 1862.7,1312.4 1864.5,1312.6 1866.3,1312.8 1868.1,1313.1 1869.9,1313.3 1871.6,1313.5 1873.4,1313.7 1875.2,1313.9 1877,1314.1 1878.8,1314.4 1880.6,1314.6 1882.4,1314.8 1884.2,1315 1885.9,1315.2 1887.7,1315.4 1889.5,1315.6 1891.3,1315.8 1893.1,1315.9 1894.9,1316.1 1896.7,1316.3 1898.5,1316.5 1900.3,1316.7 1902.1,1316.9 1903.9,1317 1905.6,1317.2 1907.4,1317.4 1909.2,1317.5 1911,1317.7 1912.8,1317.9 1914.6,1318 1916.4,1318.2 1918.2,1318.3 1920,1318.5 1921.8,1318.6 1923.6,1318.8 1925.4,1318.9 1927.2,1319.1 1929,1319.2 1930.8,1319.3 1932.5,1319.4 1934.3,1319.6 1936.1,1319.7 1937.9,1319.8 1939.7,1319.9 1941.5,1320.1 1943.3,1320.2 1945.1,1320.3 1946.9,1320.5 1948.7,1320.6 1950.5,1320.8 1952.3,1321 1954.1,1321.1 1955.9,1321.3 1957.7,1321.5 1959.5,1321.7 1961.2,1321.9 1963,1322.1 1964.8,1322.3 1966.6,1322.5 1968.4,1322.7 1970.2,1323 1972,1323.2 1973.7,1323.5 1975.5,1323.7 1977.3,1324 1979.1,1324.3 1980.8,1324.6 1982.6,1324.9 1984.4,1325.3 1986.1,1325.6 1987.9,1326 1989.7,1326.4 1991.4,1326.9 1993.1,1327.5 1994.8,1328 1996.5,1328.7 1998.2,1329.3 1999.8,1330 2001.5,1330.7 2003.1,1331.5 2004.7,1332.3 2006.3,1333.1 2007.9,1333.9 2009.5,1334.8 2011.1,1335.7 2012.6,1336.6 2014.2,1337.5 2015.7,1338.5 2017.2,1339.4 2018.7,1340.5 2020.1,1341.6 2021.5,1342.7 2022.9,1343.8 2024.3,1345 2025.6,1346.2 2026.9,1347.4 2028.2,1348.7 2029.5,1350 2030.8,1351.3 2032,1352.6 2033.2,1353.9 2034.5,1355.2 2035.7,1356.5 2036.9,1357.9 2038.1,1359.2 2039.2,1360.6 2040.3,1362 2041.4,1363.4 2042.5,1364.9 2043.6,1366.3 2044.6,1367.8 2045.6,1369.3 2046.7,1370.8 2047.7,1372.3 2048.7,1373.7 2049.7,1375.2 2050.7,1376.7 2051.7,1378.2 2052.8,1379.7 2053.8,1381.1 2054.9,1382.6 2055.9,1384.1 2056.9,1385.5 2058,1387 2059,1388.5 2060.1,1389.9 2061.1,1391.4 2062.1,1392.9 2063.2,1394.4 2064.2,1395.8 2065.2,1397.3 2066.2,1398.8 2067.2,1400.3 2068.2,1401.8 2069.2,1403.3 2070.1,1404.9 2071,1406.4 2071.9,1408 2072.8,1409.5 2073.7,1411.1 2074.6,1412.7 2075.5,1414.2 2076.4,1415.8 2077.2,1417.4 2078.1,1419 2079,1420.5 2079.8,1422.1 2080.7,1423.7 2081.6,1425.3 2082.4,1426.8 2083.3,1428.4 2084.2,1430 2085.1,1431.5 2086,1433.1 2087,1434.6 2087.9,1436.2 2088.9,1437.7 2089.8,1439.2 2090.8,1440.7 2091.9,1442.2 2092.9,1443.6 2094,1445.1 2095.1,1446.5 2096.2,1447.9 2097.4,1449.3 2098.6,1450.6 2099.8,1452 2101,1453.2 2102.3,1454.5 2103.6,1455.7 2105,1457 2106.3,1458.1 2107.7,1459.3 2109.2,1460.4 2110.6,1461.4 2112.1,1462.4 2113.6,1463.4 2115.2,1464.3 2116.7,1465.2 2118.3,1466.1 2119.9,1466.9 2121.5,1467.7 2123.2,1468.4 2124.8,1469.1 2126.5,1469.8 2128.2,1470.4 2129.9,1471 2131.6,1471.5 2133.3,1472 2135.1,1472.5 2136.8,1473 2138.6,1473.4 2140.3,1473.8 2142.1,1474.2 2143.9,1474.5 2145.6,1474.8 2147.4,1475.1 2149.2,1475.3 2151,1475.5 2152.8,1475.8 2154.6,1476 2156.3,1476.2 2158.1,1476.3 2159.9,1476.4 2161.7,1476.5 2163.5,1476.5 2165.3,1476.5 2167.1,1476.5 2168.9,1476.5 2170.7,1476.5 2172.5,1476.5 2174.3,1476.5 2176.1,1476.5 2177.9,1476.5 2179.7,1476.5 2181.5,1476.5 2183.3,1476.5 2185.1,1476.5 2186.9,1476.5 2188.7,1476.5 2190.5,1476.5 2192.3,1476.5 2194.1,1476.5 2195.9,1476.5 2197.7,1476.5 2199.5,1476.5 2201.3,1476.5 2203.1,1476.5 2204.9,1476.5" stroke="#f00" marker-start="url(#m_red)" marker-mid="url(#m_red)" marker-end="url(#m_red)"/>
<polyline points="216.4,160.5 218.2,160.5 220,160.5 221.8,160.5 223.6,160.5 225.4,160.5 227.2,160.5 229,160.5 230.8,160.5 232.6,160.5 234.4,160.5 236.2,160.5 238,160.5 239.8,160.5 241.6,160.5 243.4,160.7 245.2,161.1 247,161.4 248.8,161.7 250.6,162 252.4,162.3 254.2,162.6 256,162.9 257.8,163.3 259.6,163.6 261.4,163.9 263.2,164.2 265,164.5 266.8,164.8 268.6,165.2 270.4,165.5 272.2,165.8 274,160.5 275.8,160.5 277.6,160.5 279.4,160.5 281.2,160.5 283,160.5 284.8,160.5 286.6,160.5 288.4,160.5 290.2,160.5 292,160.5 293.8,160.5 295.6,160.5 297.4,160.5 299.2,160.5 301,160.5 302.8,160.5 304.6,160.5 306.4,160.5 308.2,160.5 310,160.5 311.8,160.7 313.6,160.9 315.4,161.1 317.2,161.3 319,161.6 320.8,161.8 322.6,162 324.4,162.2 326.2,162.4 328,162.7 329.8,162.9 331.6,163.1 333.4,163.3 335.2,163.5 337,163.7 338.8,164 340.6,164.2 342.4,164.4 344.2,164.6 346,164.8 347.8,165.1 349.6,165.3 351.4,165.5 353.2,165.7 355,165.9 356.8,160.5 358.6,160.5 360.4,160.5 362.2,160.5 364,160.5 365.8,160.5 367.6,160.5 369.4,160.5 371.2,160.5 373,160.5 374.8,160.5 376.6,160.5 378.4,160.5 380.2,160.5 382,160.5 383.8,160.5 385.6,160.5 387.4,160.5 389.2,160.5 391,160.7 392.8,160.9 394.6,161.1 396.4,161.4 398.2,161.6 400,161.8 401.8,162.1 403.6,162.3 405.4,162.5 407.2,162.8 409,163 410.8,163.2 412.6,163.5 414.4,163.7 416.2,164 418,164.2 419.8,164.4 421.6,164.7 423.4,164.9 425.2,165.1 427,165.4 428.8,165.6 430.6,165.8 432.4,160.5 434.2,160.5 436,160.5 437.8,160.5 439.6,160.5 441.4,160.5 443.2,160.5 445,160.5 446.8,160.5 448.6,160.5 450.4,160.5 452.2,160.5 454,160.5 455.8,160.5 457.6,160.5 459.4,160.5 461.2,160.6 463,160.9 464.8,161.2 466.6,161.5 468.4,161.7 470.2,162 472,162.3 473.8,162.6 475.6,162.9 477.4,163.2 479.2,163.4 481,163.7 482.8,164 484.6,164.3 486.4,164.6 488.2,164.9 490,165.1 491.8,165.4 493.6,165.7 495.4,166 497.2,160.5 499,160.5 500.8,160.5 502.6,160.5 504.4,160.5 506.2,160.5 508,160.5 509.8,160.5 511.6,160.5 513.4,160.5 515.2,160.5 517,160.5 518.8,160.5 520.6,160.5 522.4,160.5 524.2,160.8 526,161.1 527.8,161.4 529.6,161.7 531.4,162 533.2,162.3 535,162.6 536.8,162.9 538.6,163.2 540.4,163.5 542.2,163.8 544,164.1 545.8,164.4 547.6,164.7 549.4,165 551.2,165.3 553,165.6 554.8,165.9 556.6,160.5 558.4,160.5 560.2,160.5 562,160.5 563.8,160.5 565.6,160.5 567.4,160.5 569.2,160.5 571,160.5 572.8,160.5 574.6,160.5 576.4,160.5 578.2,160.5 580,160.5 581.8,160.5 583.6,160.5 585.4,160.5 587.2,160.5 589,160.8 590.8,161.1 592.6,161.3 594.4,161.6 596.2,161.8 598,162.1 599.8,162.4 601.6,162.6 603.4,162.9 605.2,163.1 607,163.4 608.8,163.6 610.6,163.9 612.4,164.2 614.2,164.4 616,164.7 617.8,164.9 619.6,165.2 621.4,165.5 623.2,172 625,166 626.8,160.5 628.6,160.5 630.4,160.5 632.2,160.5 634,160.5 635.8,160.5 637.6,160.5 639.4,160.5 641.2,160.5 643,160.5 644.8,160.5 646.6,160.5 648.4,160.5 650.2,160.5 652,160.5 653.8,160.5 655.6,160.5 657.4,160.6 659.2,160.9 661,161.1 662.8,161.4 664.6,161.7 666.4,161.9 668.2,162.2 670,162.4 671.8,162.7 673.6,162.9 675.4,163.2 677.2,163.5 679,163.7 680.8,164 682.6,164.2 684.4,164.5 686.2,164.8 688,165 689.8,165.3 691.6,165.5 693.4,165.8 695.2,160.5 697,160.5 698.8,160.5 700.6,160.5 702.4,160.5 704.2,160.5 706,160.5 707.8,160.5 709.6,160.5 711.4,160.5 713.2,160.5 715,160.5 716.8,160.5 718.6,160.5 720.4,160.5 722.2,160.5 724,160.5 725.8,160.5 727.6,160.5 731,160.5 732.8,160.6 734.6,160.7 736.4,161.1 738.2,161.5 740,162 741.8,162.7 743.6,163.5 745.4,164.3 747.2,165.3 749,166.4 750.8,167.5 752.6,168.7 754.4,170 756.2,171.3 758,172.7 759.8,174.1 761.6,175.6 763.4,177 765.2,178.5 767,179.9 768.8,181.4 770.6,182.8 772.4,184.1 774.2,185.4 776,186.7 777.8,187.9 779.6,189 781.4,190 783.2,191 785,191.8 786.8,192.5 788.6,193.2 790.4,193.7 792.2,194.1 794,194.3 795.8,194.5 797,194.5 798.8,194.1 800.6,193.8 802.4,193.4 804.2,193.1 806,192.7 807.8,192.3 809.6,192 811.4,191.6 813.2,191.3 815,190.9 816.8,190.5 818.6,190.2 820.4,189.8 822.2,189.5 824,189.1 825.8,188.7 827.6,191.7 829.4,194.3 831.2,194 833,193.7 834.8,193.3 836.6,193 838.4,192.7 840.2,192.4 842,192 843.8,191.7 845.6,191.4 847.4,191 849.2,190.7 851,190.4 852.8,190 854.6,189.7 856.4,189.4 858.2,189.1 860,188.7 861.8,188.4 863.6,188.1 865.4,187.7 867.2,187.4 869,187.1 870.8,186.8 872.6,186.4 874.4,186.1 876.2,185.8 878,185.8 879.8,185.8 881.6,185.8 883.4,185.8 885.2,185.8 887,185.8 888.8,185.8 890.6,185.8 892.4,185.8 894.2,185.8 896,185.8 897.8,185.8 899.6,185.8 901.4,185.8 903.2,185.8 905,185.9 906.8,185.9 908.6,185.9 910.4,185.9 912.2,185.9 914,185.9 915.8,185.9 917.6,185.9 919.4,186.2 921.2,187.8 923,189.4 924.8,190.9 926.6,190.9 928.4,190.6 930.2,190.4 932,190.1 933.8,189.8 935.6,189.6 937.4,189.3 939.2,189.1 941,188.8 942.8,188.6 944.6,188.3 946.4,188.1 948.2,187.8 950,187.5 951.8,187.3 953.6,187 955.4,186.8 957.2,186.5 959,186.3 960.8,186 962.6,188.7 964.4,193.7 966.2,193.7 968,193.3 969.8,193 971.6,192.6 973.4,192.3 975.2,191.9 977,191.6 978.8,191.2 980.6,190.9 982.4,190.6 984.2,190.2 986,189.9 987.8,189.5 989.6,189.2 991.4,188.9 993.2,188.9 995,188.9 996.8,188.9 998.6,188.9 1000.4,188.9 1002.2,188.9 1004,188.9 1005.8,188.9 1007.6,188.9 1009.4,188.9 1011.2,188.9 1013,188.9 1014.8,188.9 1016.6,188.9 1018.4,188.9 1020.2,188.9 1022,189.5 1023.8,194.4 1025.6,196.7 1027.4,196.4 1029.2,196.1 1031,195.8 1032.8,195.5 1034.6,195.2 1036.4,194.8 1038.2,194.5 1040,194.2 1041.8,193.9 1043.6,193.6 1045.4,193.2 1047.2,192.9 1049,192.6 1050.8,192.3 1052.6,192 1054.4,191.7 1056.2,191.3 1058,191 1059.8,190.7 1061.6,190.4 1063.4,190.1 1065.2,189.7 1067,189.4 1068.8,189.1 1070.6,188.8 1072.4,188.5 1074.2,188.2 1076,187.8 1077.8,187.5 1079.6,187.2 1081.4,186.9 1083.2,186.6 1085,186.3 1086.8,185.9" stroke="#0f0" marker-start="url(#m_green)" marker-mid="url(#m_green)" marker-end="url(#m_green)"/>
<polyline points="1090.5,264 1094.9,263.2 1099.3,262.4 1103.7,261.6 1108.1,260.8 1112.5,260 1116.9,259.2 1121.3,258.4 1125.7,257.6 1131.5,308 1134.7,416.7 1140,512 1142.5,586 1144,608 1144.3,609.8 1144.5,611.6 1144.8,613.3 1145.1,615.1 1145.3,616.9 1145.6,618.7 1145.9,620.5 1146.2,622.2 1146.5,624 1146.8,625.8 1147.2,627.5 1147.6,629.3 1148,631 1148.5,632.8 1148.9,634.5 1149.4,636.3 1149.8,638 1150.3,639.8 1150.7,641.5 1151.1,643.3 1151.4,645 1151.7,646.8 1152,648.6 1152.2,650.4 1152.4,652.2 1152.7,653.9 1152.8,655.7 1153,657.5 1153.2,659.3 1153.4,661.1 1153.5,662.9 1153.7,664.7 1153.8,666.5 1154,668.3 1154.2,670.1 1154.3,671.9 1154.5,673.7 1154.7,675.4 1154.9,677.2 1155.1,679 1155.3,680.8 1155.4,682.6 1155.6,684.4 1155.8,686.2 1156,688 1156.2,689.8 1156.4,691.6 1156.6,693.3 1156.8,695.1 1157,696.9 1157.3,698.7 1157.5,700.5 1157.7,702.3 1158,704.1 1158.2,705.8 1158.5,707.6 1158.8,709.4 1159.1,711.2 1159.3,713 1159.6,714.7 1159.9,716.5 1160.2,718.3 1160.5,720.1 1160.8,721.8 1161.2,723.6 1161.5,725.4 1161.8,727.1 1162.1,728.9 1162.5,730.7 1162.8,732.4 1163.2,734.2 1163.5,736 1163.9,737.7 1164.3,739.5 1164.7,741.3 1165.1,743 1165.5,744.8 1165.9,746.5 1166.4,748.2 1166.8,750 1167.3,751.7 1167.8,753.5 1168.2,755.2 1168.7,756.9 1169.2,758.7 1169.7,760.4 1170.2,762.1 1170.7,763.9 1171.1,765.6 1171.6,767.3 1172.1,769.1 1172.6,770.8 1173,772.5 1173.5,774.3 1174,776 1174.5,777.8 1174.9,779.5 1175.4,781.2 1175.9,783 1176.4,784.7 1176.8,786.4 1177.3,788.2 1177.8,789.9 1178.3,791.6 1178.8,793.4 1179.3,795.1 1179.8,796.8 1180.3,798.6 1180.8,800.3 1181.3,802 1181.8,803.7 1182.3,805.5 1182.8,807.2 1183.4,808.9 1183.9,810.6 1184.4,812.3 1185,814.1 1185.5,815.8 1186.1,817.5 1186.7,819.2 1187.2,820.9 1187.8,822.6 1188.4,824.3 1189,826 1189.6,827.7 1190.2,829.4 1190.9,831.1 1191.5,832.8 1192.1,834.4 1192.7,836.1 1193.4,837.8 1194,839.5 1194.6,841.2 1195.2,842.9 1195.9,844.6 1196.5,846.3 1197.1,847.9 1197.8,849.6 1198.4,851.3 1199,853 1199.7,854.7 1200.3,856.4 1200.9,858.1 1201.6,859.7 1202.2,861.4 1202.9,863.1 1203.5,864.8 1204.2,866.4 1204.8,868.1 1205.5,869.8 1206.2,871.5 1206.8,873.1 1207.5,874.8 1208.2,876.5 1208.9,878.1 1209.6,879.8 1210.3,881.5 1211,883.1 1211.7,884.8 1212.4,886.4 1213.1,888.1 1213.8,889.7 1214.6,891.4 1215.3,893 1216,894.7 1216.8,896.3 1217.5,897.9 1218.3,899.6 1219,901.2 1219.8,902.8 1220.6,904.5 1221.3,906.1 1222.1,907.7 1222.9,909.3 1223.7,911 1224.5,912.6 1225.2,914.2 1226,915.8 1226.9,917.4 1227.7,919 1228.5,920.6 1229.3,922.2 1230.1,923.8 1231,925.4 1231.8,927 1232.7,928.6 1233.5,930.2 1234.4,931.8 1235.2,933.3 1236.1,934.9 1237,936.5 1237.9,938.1 1238.8,939.6 1239.7,941.2 1240.6,942.7 1241.5,944.3 1242.4,945.8 1243.3,947.4 1244.2,948.9 1245.2,950.5 1246.1,952 1247.1,953.5 1248,955 1249,956.6 1250,958.1 1250.9,959.6 1251.9,961.1 1252.9,962.6 1253.9,964.1 1254.9,965.6 1255.9,967.1 1256.9,968.6 1258,970.1 1259,971.5 1260,973 1261.1,974.4 1262.2,975.9 1263.3,977.3 1264.3,978.8 1265.4,980.2 1266.5,981.6 1267.6,983 1268.7,984.5 1269.8,985.9 1271,987.3 1272.1,988.7 1273.2,990.1 1274.3,991.6 1275.4,993 1276.5,994.4 1277.6,995.8 1278.7,997.2 1279.8,998.7 1280.9,1000.1 1282,1001.5 1283.1,1003 1284.1,1004.4 1285.2,1005.9 1286.2,1007.3 1287.3,1008.8 1288.3,1010.3 1289.4,1011.7 1290.4,1013.2 1291.5,1014.7 1292.5,1016.1 1293.6,1017.6 1294.6,1019.1 1295.6,1020.5 1296.7,1022 1297.7,1023.5 1298.8,1024.9 1299.9,1026.4 1300.9,1027.8 1302,1029.3 1303.1,1030.7 1304.2,1032.1 1305.3,1033.6 1306.4,1035 1307.5,1036.4 1308.6,1037.8 1309.7,1039.2 1310.9,1040.6 1312.1,1041.9 1313.2,1043.3 1314.4,1044.7 1315.7,1046 1316.9,1047.3 1318.1,1048.6 1319.4,1049.9 1320.7,1051.1 1322,1052.4 1323.3,1053.6 1324.6,1054.8 1325.9,1056.1 1327.3,1057.3 1328.6,1058.5 1329.9,1059.7 1331.2,1060.9 1332.6,1062.1 1333.9,1063.3 1335.2,1064.6 1336.6,1065.8 1337.9,1067 1339.2,1068.2 1340.5,1069.5 1341.8,1070.7 1343.1,1072 1344.3,1073.3 1345.6,1074.5 1346.9,1075.8 1348.2,1077.1 1349.4,1078.4 1350.7,1079.6 1352,1080.9 1353.2,1082.2 1354.5,1083.5 1355.7,1084.8 1357,1086.1 1358.2,1087.4 1359.5,1088.7 1360.7,1090 1362,1091.2 1363.2,1092.5 1364.5,1093.8 1365.7,1095.1 1367,1096.4 1368.3,1097.7 1369.5,1099 1370.8,1100.3 1372,1101.6 1373.3,1102.9 1374.5,1104.2 1375.8,1105.4 1377.1,1106.7 1378.3,1108 1379.6,1109.3 1380.9,1110.5 1382.2,1111.8 1383.4,1113.1 1384.7,1114.3 1386,1115.6 1387.3,1116.8 1388.6,1118.1 1389.9,1119.3 1391.2,1120.6 1392.5,1121.8 1393.9,1123 1395.2,1124.2 1396.5,1125.4 1397.9,1126.6 1399.2,1127.8 1400.6,1129 1401.9,1130.2 1403.3,1131.4 1404.7,1132.5 1406,1133.7 1407.4,1134.9 1408.8,1136 1410.1,1137.2 1411.5,1138.4 1412.9,1139.5 1414.3,1140.7 1415.7,1141.8 1417.1,1142.9 1418.5,1144.1 1419.9,1145.2 1421.3,1146.3 1422.7,1147.5 1424.1,1148.6 1425.5,1149.7 1426.9,1150.8 1428.3,1151.9 1429.8,1153 1431.2,1154.1 1432.6,1155.2 1434.1,1156.3 1435.5,1157.3 1437,1158.4 1438.4,1159.4 1439.9,1160.5 1441.4,1161.5 1442.8,1162.6 1444.3,1163.6 1445.8,1164.6 1447.3,1165.7 1448.8,1166.7 1450.3,1167.7 1451.8,1168.7 1453.3,1169.6 1454.8,1170.6 1456.3,1171.6 1457.8,1172.6 1459.3,1173.5 1460.9,1174.5 1462.4,1175.4 1463.9,1176.3 1465.5,1177.3 1467,1178.2 1468.6,1179.1 1470.1,1180 1471.7,1180.9 1473.3,1181.8 1474.8,1182.7 1476.4,1183.6 1478,1184.5 1479.5,1185.3 1481.1,1186.2 1482.7,1187.1 1484.3,1188 1485.8,1188.8 1487.4,1189.7 1489,1190.5 1490.6,1191.4 1492.2,1192.2 1493.8,1193.1 1495.3,1193.9 1496.9,1194.8 1498.5,1195.6 1500.1,1196.5 1501.7,1197.3 1503.3,1198.1 1504.9,1199 1506.5,1199.8 1508.1,1200.6 1509.7,1201.4 1511.3,1202.2 1512.9,1203.1 1514.5,1203.9 1516.1,1204.7 1517.7,1205.5 1519.4,1206.3 1521,1207.1 1522.6,1207.9 1524.2,1208.6 1525.8,1209.4 1527.5,1210.2 1529.1,1211 1530.7,1211.8 1532.3,1212.5 1534,1213.3 1535.6,1214.1 1537.2,1214.8 1538.8,1215.6 1540.5,1216.3 1542.1,1217.1 1543.7,1217.9 1545.4,1218.6 1547,1219.3 1548.7,1220.1 1550.3,1220.8 1551.9,1221.6 1553.6,1222.3 1555.2,1223 1556.9,1223.8 1558.5,1224.5 1560.2,1225.2 1561.8,1226 1563.5,1226.7 1565.1,1227.4 1566.8,1228.1 1568.4,1228.8 1570.1,1229.6 1571.7,1230.3 1573.4,1231 1575,1231.7 1576.7,1232.4 1578.3,1233.1 1580,1233.8 1581.7,1234.5 1583.3,1235.2 1585,1235.8 1586.7,1236.5 1588.3,1237.2 1590,1237.9 1591.7,1238.6 1593.3,1239.3 1595,1239.9 1596.7,1240.6 1598.3,1241.3 1600,1241.9 1601.7,1242.6 1603.4,1243.3 1605,1243.9 1606.7,1244.6 1608.4,1245.2 1610.1,1245.9 1611.7,1246.5 1613.4,1247.2 1615.1,1247.8 1616.8,1248.5 1618.5,1249.1 1620.1,1249.8 1621.8,1250.4 1623.5,1251 1625.2,1251.7 1626.9,1252.3 1628.6,1252.9 1630.3,1253.5 1631.9,1254.2 1633.6,1254.8 1635.3,1255.4 1637,1256 1638.7,1256.6 1640.4,1257.2 1642.1,1257.9 1643.8,1258.5 1645.5,1259.1 1647.2,1259.6 1648.9,1260.2 1650.6,1260.8 1652.3,1261.4 1654,1262 1655.7,1262.6 1657.4,1263.1 1659.1,1263.7 1660.8,1264.3 1662.5,1264.8 1664.2,1265.4 1666,1265.9 1667.7,1266.5 1669.4,1267 1671.1,1267.6 1672.8,1268.1 1674.5,1268.7 1676.3,1269.2 1678,1269.7 1679.7,1270.3 1681.4,1270.8 1683.1,1271.3 1684.9,1271.8 1686.6,1272.4 1688.3,1272.9 1690,1273.4 1691.8,1273.9 1693.5,1274.4 1695.2,1274.9 1696.9,1275.4 1698.7,1275.9 1700.4,1276.4 1702.1,1276.9 1703.9,1277.4 1705.6,1277.9 1707.3,1278.4 1709.1,1278.9 1710.8,1279.3 1712.5,1279.8 1714.3,1280.3 1716,1280.8 1717.7,1281.2 1719.5,1281.7 1721.2,1282.2 1723,1282.7 1724.7,1283.1 1726.4,1283.6 1728.2,1284 1729.9,1284.5 1731.7,1285 1733.4,1285.4 1735.1,1285.9 1736.9,1286.3 1738.6,1286.8 1740.4,1287.2 1742.1,1287.7 1743.9,1288.1 1745.6,1288.5 1747.3,1289 1749.1,1289.4 1750.8,1289.8 1752.6,1290.2 1754.3,1290.7 1756.1,1291.1 1757.8,1291.5 1759.6,1291.9 1761.3,1292.3 1763.1,1292.7 1764.9,1293.1 1766.6,1293.5 1768.4,1293.9 1770.1,1294.3 1771.9,1294.7 1773.6,1295.1 1775.4,1295.5 1777.2,1295.9 1778.9,1296.3 1780.7,1296.7 1782.4,1297 1784.2,1297.4 1786,1297.8 1787.7,1298.2 1789.5,1298.5 1791.2,1298.9 1793,1299.3 1794.8,1299.6 1796.5,1300 1798.3,1300.4 1800.1,1300.7 1801.8,1301.1 1803.6,1301.4 1805.3,1301.8 1807.1,1302.1 1808.9,1302.4 1810.7,1302.8 1812.4,1303.1 1814.2,1303.4 1816,1303.7 1817.7,1304.1 1819.5,1304.4 1821.3,1304.7 1823.1,1305 1824.8,1305.3 1826.6,1305.6 1828.4,1305.9 1830.2,1306.1 1831.9,1306.4 1833.7,1306.7 1835.5,1307 1837.3,1307.2 1839.1,1307.5 1840.8,1307.8 1842.6,1308 1844.4,1308.3 1846.2,1308.5 1848,1308.8 1849.7,1309 1851.5,1309.3 1853.3,1309.5 1855.1,1309.8 1856.9,1310 1858.7,1310.3 1860.4,1310.5 1862.2,1310.7 1864,1311 1865.8,1311.2 1867.6,1311.4 1869.4,1311.7 1871.2,1311.9 1872.9,1312.1 1874.7,1312.3 1876.5,1312.6 1878.3,1312.8 1880.1,1313 1881.9,1313.2 1883.7,1313.5 1885.4,1313.7 1887.2,1313.9 1889,1314.1 1890.8,1314.3 1892.6,1314.5 1894.4,1314.8 1896.2,1315 1898,1315.2 1899.7,1315.4 1901.5,1315.6 1903.3,1315.8 1905.1,1316 1906.9,1316.2 1908.7,1316.4 1910.5,1316.6 1912.3,1316.8 1914.1,1316.9 1915.9,1317.1 1917.6,1317.3 1919.4,1317.4 1921.2,1317.6 1923,1317.8 1924.8,1317.9 1926.6,1318 1928.4,1318.2 1930.2,1318.3 1932,1318.4 1933.8,1318.5 1935.6,1318.7 1937.4,1318.8 1939.2,1318.9 1941,1319 1942.8,1319.2 1944.6,1319.3 1946.4,1319.4 1948.2,1319.6 1950,1319.7 1951.7,1319.9 1953.5,1320.1 1955.3,1320.3 1957.1,1320.4 1958.9,1320.6 1960.7,1320.8 1962.5,1321 1964.3,1321.2 1966.1,1321.4 1967.8,1321.7 1969.6,1321.9 1971.4,1322.1 1973.2,1322.4 1975,1322.6 1976.8,1322.9 1978.5,1323.2 1980.3,1323.5 1982.1,1323.8 1983.8,1324.2 1985.6,1324.5 1987.4,1324.9 1989.1,1325.3 1990.9,1325.8 1992.6,1326.3 1994.3,1326.9 1996,1327.5 1997.7,1328.1 1999.3,1328.8 2001,1329.5 2002.6,1330.3 2004.3,1331 2005.9,1331.8 2007.5,1332.7 2009,1333.5 2010.6,1334.4 2012.2,1335.3 2013.7,1336.2 2015.3,1337.2 2016.8,1338.1 2018.2,1339.2 2019.7,1340.2 2021.1,1341.3 2022.5,1342.5 2023.9,1343.7 2025.2,1344.9 2026.5,1346.1 2027.8,1347.3 2029.1,1348.6 2030.4,1349.9 2031.6,1351.2 2032.9,1352.5 2034.1,1353.8 2035.3,1355.1 2036.5,1356.5 2037.7,1357.8 2038.9,1359.2 2040,1360.6 2041.1,1362 2042.2,1363.4 2043.2,1364.9 2044.3,1366.4 2045.3,1367.8 2046.3,1369.3 2047.4,1370.8 2048.4,1372.3 2049.4,1373.8 2050.4,1375.3 2051.4,1376.7 2052.4,1378.2 2053.5,1379.7 2054.5,1381.2 2055.6,1382.6 2056.7,1384.1 2057.7,1385.5 2058.8,1387 2059.8,1388.4 2060.9,1389.9 2061.9,1391.4 2062.9,1392.9 2063.9,1394.3 2064.9,1395.8 2065.9,1397.3 2066.9,1398.9 2067.9,1400.4 2068.8,1401.9 2069.7,1403.5 2070.6,1405 2071.5,1406.6 2072.4,1408.1 2073.3,1409.7 2074.2,1411.3 2075,1412.9 2075.9,1414.4 2076.8,1416 2077.6,1417.6 2078.5,1419.2 2079.4,1420.7 2080.3,1422.3 2081.2,1423.9 2082.1,1425.4 2083,1427 2083.9,1428.5 2084.8,1430.1 2085.7,1431.6 2086.6,1433.2 2087.5,1434.7 2088.4,1436.3 2089.3,1437.9 2090.3,1439.4 2091.2,1440.9 2092.1,1442.5 2093.1,1444 2094.1,1445.5 2095.1,1447 2096.1,1448.5 2097.2,1449.9 2098.3,1451.4 2099.4,1452.8 2100.5,1454.2 2101.7,1455.6 2102.8,1456.9 2104,1458.3 2105.2,1459.6 2106.5,1460.9 2107.7,1462.2 2109,1463.5 2110.3,1464.7 2111.7,1465.9 2113.1,1467 2114.5,1468.2 2115.9,1469.3 2117.4,1470.3 2118.8,1471.3 2120.3,1472.3 2121.9,1473.3 2123.4,1474.2 2124.9,1475.1 2126.5,1476 2128.1,1476.9 2129.6,1477.8 2131.2,1478.7 2132.8,1479.5 2134.4,1480.4 2136,1481.3 2137.5,1482.1 2139.2,1482.9 2140.8,1483.7 2142.4,1484.4 2144.1,1485.1 2145.8,1485.7 2147.5,1486.1 2149.3,1486.6 2151,1487.1 2152.8,1487.5 2154.5,1487.9 2156.3,1488.3 2158.1,1488.6 2159.8,1488.8 2161.6,1489 2163.4,1489 2165.2,1489 2167,1489 2168.8,1489 2170.6,1489 2172.4,1489 2174.2,1489 2176,1489 2177.8,1489 2179.6,1489 2181.4,1489 2183.2,1489 2185,1489 2186.8,1489 2188.6,1489 2190.4,1489 2192.2,1489 2194,1489 2195.8,1489 2197.6,1489 2199.4,1489 2201.2,1489 2203,1489 2204.8,1489" stroke="#0f0" marker-start="url(#m_green)" marker-mid="url(#m_green)" marker-end="url(#m_green)"/>
<polyline points="216.4,162.9 218.2,162.9 220,162.9 221.8,162.9 223.6,162.9 225.4,162.9 227.2,162.9 229,162.9 230.8,162.9 232.6,162.9 234.4,162.9 236.2,162.9 238,162.9 239.8,162.9 241.6,162.9 243.4,163.1 245.2,163.5 247,163.8 248.8,164.1 250.6,164.4 252.4,164.7 254.2,165 256,165.3 257.8,165.7 259.6,166 261.4,166.3 263.2,166.6 265,166.9 266.8,167.2 268.6,167.6 270.4,167.9 272.2,168.2 274,162.9 275.8,162.9 277.6,162.9 279.4,162.9 281.2,162.9 283,162.9 284.8,162.9 286.6,162.9 288.4,162.9 290.2,162.9 292,162.9 293.8,162.9 295.6,162.9 297.4,162.9 299.2,162.9 301,162.9 302.8,162.9 304.6,162.9 306.4,162.9 308.2,162.9 310,162.9 311.8,163.1 313.6,163.3 315.4,163.5 317.2,163.7 319,164 320.8,164.2 322.6,164.4 324.4,164.6 326.2,164.8 328,165.1 329.8,165.3 331.6,165.5 333.4,165.7 335.2,165.9 337,166.1 338.8,166.4 340.6,166.6 342.4,166.8 344.2,167 346,167.2 347.8,167.5 349.6,167.7 351.4,167.9 353.2,168.1 355,168.3 356.8,162.9 358.6,162.9 360.4,162.9 362.2,162.9 364,162.9 365.8,162.9 367.6,162.9 369.4,162.9 371.2,162.9 373,162.9 374.8,162.9 376.6,162.9 378.4,162.9 380.2,162.9 382,162.9 383.8,162.9 385.6,162.9 387.4,162.9 389.2,162.9 391,163.1 392.8,163.3 394.6,163.5 396.4,163.8 398.2,164 400,164.2 401.8,164.5 403.6,164.7 405.4,164.9 407.2,165.2 409,165.4 410.8,165.6 412.6,165.9 414.4,166.1 416.2,166.4 418,166.6 419.8,166.8 421.6,167.1 423.4,167.3 425.2,167.5 427,167.8 428.8,168 430.6,168.2 432.4,162.9 434.2,162.9 436,162.9 437.8,162.9 439.6,162.9 441.4,162.9 443.2,162.9 445,162.9 446.8,162.9 448.6,162.9 450.4,162.9 452.2,162.9 454,162.9 455.8,162.9 457.6,162.9 459.4,162.9 461.2,163 463,163.3 464.8,163.6 466.6,163.9 468.4,164.1 470.2,164.4 472,164.7 473.8,165 475.6,165.3 477.4,165.6 479.2,165.8 481,166.1 482.8,166.4 484.6,166.7 486.4,167 488.2,167.3 490,167.5 491.8,167.8 493.6,168.1 495.4,168.4 497.2,162.9 499,162.9 500.8,162.9 502.6,162.9 504.4,162.9 506.2,162.9 508,162.9 509.8,162.9 511.6,162.9 513.4,162.9 515.2,162.9 517,162.9 518.8,162.9 520.6,162.9 522.4,162.9 524.2,163.2 526,163.5 527.8,163.8 529.6,164.1 531.4,164.4 533.2,164.7 535,165 536.8,165.3 538.6,165.6 540.4,165.9 542.2,166.2 544,166.5 545.8,166.8 547.6,167.1 549.4,167.4 551.2,167.7 553,168 554.8,168.3 556.6,162.9 558.4,162.9 560.2,162.9 562,162.9 563.8,162.9 565.6,162.9 567.4,162.9 569.2,162.9 571,162.9 572.8,162.9 574.6,162.9 576.4,162.9 578.2,162.9 580,162.9 581.8,162.9 583.6,162.9 585.4,162.9 587.2,162.9 589,163.2 590.8,163.5 592.6,163.7 594.4,164 596.2,164.2 598,164.5 599.8,164.8 601.6,165 603.4,165.3 605.2,165.5 607,165.8 608.8,166 610.6,166.3 612.4,166.6 614.2,166.8 616,167.1 617.8,167.3 619.6,167.6 621.4,167.9 623.2,181 625,168.4 626.8,162.9 628.6,162.9 630.4,162.9 632.2,162.9 634,162.9 635.8,162.9 637.6,162.9 639.4,162.9 641.2,162.9 643,162.9 644.8,162.9 646.6,162.9 648.4,162.9 650.2,162.9 652,162.9 653.8,162.9 655.6,162.9 657.4,163 659.2,163.3 661,163.5 662.8,163.8 664.6,164.1 666.4,164.3 668.2,164.6 670,164.8 671.8,165.1 673.6,165.3 675.4,165.6 677.2,165.9 679,166.1 680.8,166.4 682.6,166.6 684.4,166.9 686.2,167.2 688,167.4 689.8,167.7 691.6,167.9 693.4,168.2 695.2,162.9 697,162.9 698.8,162.9 700.6,162.9 702.4,162.9 704.2,162.9 706,162.9 707.8,162.9 709.6,162.9 711.4,162.9 713.2,162.9 715,162.9 716.8,162.9 718.6,162.9 720.4,162.9 722.2,162.9 724,162.9 725.8,162.9 727.6,162.9 731,162.9 732.8,163 734.6,163.2 736.4,163.5 738.2,164 740,164.5 741.8,165.2 743.6,166 745.4,166.9 747.2,167.9 749,168.9 750.8,170.1 752.6,171.3 754.4,172.6 756.2,174 758,175.4 759.8,176.8 761.6,178.2 763.4,179.7 765.2,181.2 767,182.6 768.8,184.1 770.6,185.5 772.4,186.9 774.2,188.2 776,189.5 777.8,190.7 779.6,191.8 781.4,192.9 783.2,193.8 785,194.7 786.8,195.4 788.6,196.1 790.4,196.6 792.2,197 794,197.3 795.8,197.5 797,197.5 798.8,197.1 800.6,196.8 802.4,196.4 804.2,196.1 806,195.7 807.8,195.3 809.6,195 811.4,194.6 813.2,194.3 815,193.9 816.8,193.5 818.6,193.2 820.4,192.8 822.2,192.5 824,192.1 825.8,191.7 827.6,194.7 829.4,197.3 831.2,197 833,196.7 834.8,196.3 836.6,196 838.4,195.7 840.2,195.4 842,195 843.8,194.7 845.6,194.4 847.4,194 849.2,193.7 851,193.4 852.8,193 854.6,192.7 856.4,192.4 858.2,192.1 860,191.7 861.8,191.4 863.6,191.1 865.4,190.7 867.2,190.4 869,190.1 870.8,189.8 872.6,189.4 874.4,189.1 876.2,188.8 878,188.8 879.8,188.8 881.6,188.8 883.4,188.8 885.2,188.8 887,188.8 888.8,188.8 890.6,188.8 892.4,188.8 894.2,188.8 896,188.8 897.8,188.8 899.6,188.8 901.4,188.8 903.2,188.8 905,188.9 906.8,188.9 908.6,188.9 910.4,188.9 912.2,188.9 914,188.9 915.8,188.9 917.6,188.9 919.4,189.2 921.2,190.8 923,192.4 924.8,193.9 926.6,193.9 928.4,193.6 930.2,193.4 932,193.1 933.8,192.8 935.6,192.6 937.4,192.3 939.2,192.1 941,191.8 942.8,191.6 944.6,191.3 946.4,191.1 948.2,190.8 950,190.5 951.8,190.3 953.6,190 955.4,189.8 957.2,189.5 959,189.3 960.8,189 962.6,191.7 964.4,196.7 966.2,196.7 968,196.3 969.8,196 971.6,195.6 973.4,195.3 975.2,194.9 977,194.6 978.8,194.2 980.6,193.9 982.4,193.6 984.2,193.2 986,192.9 987.8,192.5 989.6,192.2 991.4,191.9 993.2,191.9 995,191.9 996.8,191.9 998.6,191.9 1000.4,191.9 1002.2,191.9 1004,191.9 1005.8,191.9 1007.6,191.9 1009.4,191.9 1011.2,191.9 1013,191.9 1014.8,191.9 1016.6,191.9 1018.4,191.9 1020.2,191.9 1022,192.5 1023.8,197.4 1025.6,199.7 1027.4,199.4 1029.2,199.1 1031,198.8 1032.8,198.5 1034.6,198.2 1036.4,197.8 1038.2,197.5 1040,197.2 1041.8,196.9 1043.6,196.6 1045.4,196.2 1047.2,195.9 1049,195.6 1050.8,195.3 1052.6,195 1054.4,194.7 1056.2,194.3 1058,194 1059.8,193.7 1061.6,193.4 1063.4,193.1 1065.2,192.7 1067,192.4 1068.8,192.1 1070.6,191.8 1072.4,191.5 1074.2,191.2 1076,190.8 1077.8,190.5 1079.6,190.2 1081.4,189.9 1083.2,189.6 1085,189.3 1086.8,188.9" stroke="#00f" marker-start="url(#m_blue)" marker-mid="url(#m_blue)" marker-end="url(#m_blue)"/>
<polyline points="1090.5,264 1094.5,263.4 1098.5,262.8 1102.5,262.2 1106.5,261.6 1110.5,261 1114.5,260.4 1118.5,259.8 1122.5,259.2 1127.4,369 1134.5,510 1131.8,532.7 1143,589 1146,608 1146.1,609.8 1146.2,611.6 1146.3,613.4 1146.3,615.2 1146.4,617 1146.5,618.8 1146.6,620.6 1146.7,622.4 1146.9,624.2 1147,626 1147.3,627.7 1147.7,629.5 1148.1,631.3 1148.5,633 1149,634.7 1149.5,636.5 1150,638.2 1150.5,639.9 1151,641.7 1151.4,643.4 1151.7,645.2 1152,647 1152.3,648.7 1152.5,650.5 1152.7,652.3 1152.9,654.1 1153.1,655.9 1153.3,657.7 1153.5,659.5 1153.6,661.3 1153.8,663.1 1153.9,664.9 1154.1,666.6 1154.3,668.4 1154.4,670.2 1154.6,672 1154.8,673.8 1155,675.6 1155.1,677.4 1155.3,679.2 1155.5,681 1155.7,682.8 1155.9,684.6 1156.1,686.3 1156.3,688.1 1156.5,689.9 1156.7,691.7 1156.9,693.5 1157.1,695.3 1157.3,697.1 1157.5,698.9 1157.8,700.6 1158,702.4 1158.3,704.2 1158.5,706 1158.8,707.8 1159.1,709.6 1159.4,711.3 1159.6,713.1 1159.9,714.9 1160.2,716.7 1160.5,718.4 1160.8,720.2 1161.2,722 1161.5,723.8 1161.8,725.5 1162.1,727.3 1162.5,729.1 1162.8,730.8 1163.2,732.6 1163.5,734.4 1163.9,736.1 1164.2,737.9 1164.6,739.6 1165,741.4 1165.4,743.2 1165.8,744.9 1166.3,746.6 1166.7,748.4 1167.2,750.1 1167.7,751.9 1168.1,753.6 1168.6,755.3 1169.1,757.1 1169.6,758.8 1170.1,760.5 1170.6,762.3 1171,764 1171.5,765.7 1172,767.5 1172.5,769.2 1172.9,771 1173.4,772.7 1173.9,774.4 1174.4,776.2 1174.8,777.9 1175.3,779.6 1175.8,781.4 1176.3,783.1 1176.7,784.8 1177.2,786.6 1177.7,788.3 1178.2,790 1178.7,791.8 1179.2,793.5 1179.7,795.2 1180.2,797 1180.7,798.7 1181.2,800.4 1181.7,802.1 1182.2,803.9 1182.7,805.6 1183.2,807.3 1183.8,809 1184.3,810.8 1184.8,812.5 1185.4,814.2 1185.9,815.9 1186.5,817.6 1187.1,819.3 1187.6,821 1188.2,822.7 1188.8,824.4 1189.4,826.1 1190,827.8 1190.7,829.5 1191.3,831.2 1191.9,832.9 1192.5,834.6 1193.2,836.3 1193.8,837.9 1194.4,839.6 1195,841.3 1195.7,843 1196.3,844.7 1196.9,846.4 1197.6,848.1 1198.2,849.7 1198.9,851.4 1199.5,853.1 1200.1,854.8 1200.8,856.5 1201.4,858.1 1202.1,859.8 1202.7,861.5 1203.4,863.2 1204.1,864.9 1204.7,866.5 1205.4,868.2 1206,869.9 1206.7,871.5 1207.4,873.2 1208,874.9 1208.7,876.6 1209.4,878.2 1210.1,879.9 1210.7,881.6 1211.4,883.2 1212.1,884.9 1212.8,886.6 1213.5,888.2 1214.1,889.9 1214.8,891.6 1215.5,893.2 1216.2,894.9 1216.8,896.6 1217.5,898.2 1218.2,899.9 1218.9,901.6 1219.6,903.2 1220.2,904.9 1220.9,906.6 1221.6,908.2 1222.3,909.9 1223,911.5 1223.8,913.2 1224.5,914.8 1225.2,916.5 1226,918.1 1226.7,919.8 1227.5,921.4 1228.2,923 1229,924.6 1229.8,926.3 1230.6,927.9 1231.4,929.5 1232.2,931.1 1233.1,932.7 1233.9,934.3 1234.8,935.8 1235.7,937.4 1236.6,939 1237.5,940.5 1238.4,942.1 1239.3,943.6 1240.2,945.2 1241.2,946.7 1242.1,948.2 1243.1,949.8 1244,951.3 1245,952.8 1245.9,954.3 1246.9,955.8 1247.9,957.4 1248.9,958.9 1249.8,960.4 1250.8,961.9 1251.8,963.4 1252.8,964.9 1253.8,966.4 1254.8,967.9 1255.7,969.4 1256.7,970.9 1257.7,972.4 1258.8,973.9 1259.8,975.4 1260.8,976.9 1261.8,978.4 1262.8,979.8 1263.9,981.3 1264.9,982.8 1265.9,984.3 1267,985.7 1268,987.2 1269.1,988.7 1270.1,990.1 1271.2,991.6 1272.2,993.1 1273.3,994.5 1274.3,996 1275.4,997.4 1276.4,998.9 1277.5,1000.4 1278.5,1001.8 1279.6,1003.3 1280.6,1004.7 1281.7,1006.2 1282.7,1007.7 1283.8,1009.1 1284.8,1010.6 1285.9,1012.1 1286.9,1013.5 1288,1015 1289,1016.4 1290.1,1017.9 1291.1,1019.3 1292.2,1020.8 1293.3,1022.3 1294.3,1023.7 1295.4,1025.1 1296.5,1026.6 1297.6,1028 1298.7,1029.5 1299.7,1030.9 1300.8,1032.3 1302,1033.7 1303.1,1035.2 1304.2,1036.6 1305.3,1038 1306.4,1039.4 1307.6,1040.8 1308.7,1042.1 1309.9,1043.5 1311.1,1044.9 1312.2,1046.2 1313.4,1047.6 1314.6,1048.9 1315.9,1050.3 1317.1,1051.6 1318.3,1052.9 1319.5,1054.2 1320.8,1055.5 1322,1056.8 1323.3,1058.1 1324.5,1059.4 1325.8,1060.7 1327.1,1062 1328.3,1063.2 1329.6,1064.5 1330.9,1065.8 1332.1,1067.1 1333.4,1068.4 1334.7,1069.6 1335.9,1070.9 1337.2,1072.2 1338.4,1073.5 1339.7,1074.8 1340.9,1076.1 1342.2,1077.4 1343.5,1078.7 1344.7,1079.9 1346,1081.2 1347.2,1082.5 1348.5,1083.8 1349.7,1085.1 1351,1086.4 1352.2,1087.7 1353.5,1089 1354.8,1090.3 1356,1091.6 1357.3,1092.8 1358.5,1094.1 1359.8,1095.4 1361,1096.7 1362.3,1098 1363.6,1099.3 1364.8,1100.5 1366.1,1101.8 1367.4,1103.1 1368.7,1104.4 1369.9,1105.6 1371.2,1106.9 1372.5,1108.2 1373.8,1109.4 1375.1,1110.7 1376.3,1111.9 1377.6,1113.2 1378.9,1114.4 1380.2,1115.7 1381.5,1116.9 1382.8,1118.2 1384.2,1119.4 1385.5,1120.6 1386.8,1121.9 1388.1,1123.1 1389.4,1124.3 1390.8,1125.5 1392.1,1126.7 1393.4,1127.9 1394.8,1129.1 1396.1,1130.3 1397.5,1131.5 1398.9,1132.7 1400.2,1133.9 1401.6,1135 1402.9,1136.2 1404.3,1137.4 1405.7,1138.5 1407,1139.7 1408.4,1140.9 1409.8,1142 1411.2,1143.2 1412.6,1144.3 1413.9,1145.5 1415.3,1146.6 1416.7,1147.8 1418.1,1148.9 1419.5,1150 1420.9,1151.2 1422.3,1152.3 1423.8,1153.4 1425.2,1154.5 1426.6,1155.6 1428,1156.7 1429.5,1157.8 1430.9,1158.9 1432.3,1159.9 1433.8,1161 1435.2,1162.1 1436.7,1163.1 1438.2,1164.2 1439.6,1165.2 1441.1,1166.2 1442.6,1167.2 1444.1,1168.3 1445.6,1169.3 1447.1,1170.2 1448.6,1171.2 1450.1,1172.2 1451.7,1173.1 1453.2,1174.1 1454.7,1175 1456.3,1176 1457.8,1176.9 1459.4,1177.8 1460.9,1178.7 1462.5,1179.6 1464,1180.5 1465.6,1181.4 1467.2,1182.2 1468.8,1183.1 1470.3,1184 1471.9,1184.8 1473.5,1185.7 1475.1,1186.5 1476.7,1187.4 1478.3,1188.2 1479.9,1189 1481.5,1189.9 1483.1,1190.7 1484.7,1191.5 1486.3,1192.3 1487.9,1193.2 1489.5,1194 1491.1,1194.8 1492.7,1195.6 1494.3,1196.5 1495.9,1197.3 1497.5,1198.1 1499.1,1198.9 1500.7,1199.8 1502.3,1200.6 1503.9,1201.4 1505.5,1202.2 1507.1,1203 1508.7,1203.8 1510.3,1204.7 1511.9,1205.5 1513.5,1206.3 1515.1,1207.1 1516.7,1207.9 1518.4,1208.7 1520,1209.5 1521.6,1210.3 1523.2,1211.1 1524.8,1211.9 1526.4,1212.6 1528.1,1213.4 1529.7,1214.2 1531.3,1215 1532.9,1215.8 1534.5,1216.5 1536.2,1217.3 1537.8,1218.1 1539.4,1218.8 1541.1,1219.6 1542.7,1220.4 1544.3,1221.1 1546,1221.9 1547.6,1222.6 1549.2,1223.4 1550.9,1224.1 1552.5,1224.8 1554.2,1225.6 1555.8,1226.3 1557.5,1227 1559.1,1227.8 1560.7,1228.5 1562.4,1229.2 1564,1229.9 1565.7,1230.7 1567.3,1231.4 1569,1232.1 1570.7,1232.8 1572.3,1233.5 1574,1234.2 1575.6,1234.9 1577.3,1235.6 1578.9,1236.3 1580.6,1237 1582.3,1237.7 1583.9,1238.4 1585.6,1239.1 1587.2,1239.8 1588.9,1240.5 1590.6,1241.1 1592.2,1241.8 1593.9,1242.5 1595.6,1243.2 1597.3,1243.8 1598.9,1244.5 1600.6,1245.2 1602.3,1245.8 1603.9,1246.5 1605.6,1247.1 1607.3,1247.8 1609,1248.5 1610.7,1249.1 1612.3,1249.8 1614,1250.4 1615.7,1251.1 1617.4,1251.7 1619.1,1252.3 1620.7,1253 1622.4,1253.6 1624.1,1254.3 1625.8,1254.9 1627.5,1255.5 1629.2,1256.1 1630.9,1256.8 1632.5,1257.4 1634.2,1258 1635.9,1258.6 1637.6,1259.2 1639.3,1259.9 1641,1260.5 1642.7,1261.1 1644.4,1261.7 1646.1,1262.3 1647.8,1262.9 1649.5,1263.4 1651.2,1264 1652.9,1264.6 1654.6,1265.2 1656.3,1265.8 1658,1266.3 1659.7,1266.9 1661.4,1267.5 1663.1,1268 1664.9,1268.6 1666.6,1269.1 1668.3,1269.7 1670,1270.2 1671.7,1270.8 1673.4,1271.3 1675.1,1271.9 1676.9,1272.4 1678.6,1272.9 1680.3,1273.5 1682,1274 1683.7,1274.5 1685.5,1275 1687.2,1275.5 1688.9,1276.1 1690.6,1276.6 1692.4,1277.1 1694.1,1277.6 1695.8,1278.1 1697.6,1278.6 1699.3,1279.1 1701,1279.6 1702.7,1280.1 1704.5,1280.6 1706.2,1281.1 1707.9,1281.5 1709.7,1282 1711.4,1282.5 1713.1,1283 1714.9,1283.5 1716.6,1283.9 1718.4,1284.4 1720.1,1284.9 1721.8,1285.4 1723.6,1285.8 1725.3,1286.3 1727,1286.7 1728.8,1287.2 1730.5,1287.7 1732.3,1288.1 1734,1288.6 1735.8,1289 1737.5,1289.5 1739.2,1289.9 1741,1290.4 1742.7,1290.8 1744.5,1291.2 1746.2,1291.7 1748,1292.1 1749.7,1292.5 1751.5,1293 1753.2,1293.4 1755,1293.8 1756.7,1294.2 1758.5,1294.7 1760.2,1295.1 1762,1295.5 1763.7,1295.9 1765.5,1296.3 1767.2,1296.7 1769,1297.1 1770.7,1297.5 1772.5,1297.9 1774.3,1298.2 1776,1298.6 1777.8,1299 1779.5,1299.4 1781.3,1299.8 1783.1,1300.2 1784.8,1300.5 1786.6,1300.9 1788.3,1301.3 1790.1,1301.7 1791.9,1302 1793.6,1302.4 1795.4,1302.8 1797.1,1303.1 1798.9,1303.5 1800.7,1303.8 1802.4,1304.2 1804.2,1304.5 1806,1304.9 1807.7,1305.2 1809.5,1305.6 1811.3,1305.9 1813.1,1306.2 1814.8,1306.5 1816.6,1306.9 1818.4,1307.2 1820.1,1307.5 1821.9,1307.8 1823.7,1308.1 1825.5,1308.4 1827.2,1308.7 1829,1309 1830.8,1309.2 1832.6,1309.5 1834.3,1309.8 1836.1,1310.1 1837.9,1310.4 1839.7,1310.7 1841.5,1310.9 1843.2,1311.2 1845,1311.5 1846.8,1311.7 1848.6,1312 1850.4,1312.3 1852.1,1312.5 1853.9,1312.8 1855.7,1313 1857.5,1313.3 1859.3,1313.5 1861.1,1313.8 1862.8,1314 1864.6,1314.2 1866.4,1314.4 1868.2,1314.7 1870,1314.9 1871.8,1315.1 1873.6,1315.3 1875.4,1315.5 1877.1,1315.7 1878.9,1315.9 1880.7,1316.1 1882.5,1316.3 1884.3,1316.4 1886.1,1316.6 1887.9,1316.8 1889.7,1316.9 1891.5,1317.1 1893.3,1317.2 1895.1,1317.4 1896.9,1317.5 1898.7,1317.7 1900.4,1317.8 1902.2,1318 1904,1318.1 1905.8,1318.2 1907.6,1318.4 1909.4,1318.5 1911.2,1318.6 1913,1318.8 1914.8,1318.9 1916.6,1319 1918.4,1319.2 1920.2,1319.3 1922,1319.5 1923.8,1319.6 1925.6,1319.7 1927.4,1319.9 1929.2,1320 1931,1320.1 1932.8,1320.2 1934.5,1320.4 1936.3,1320.5 1938.1,1320.6 1939.9,1320.7 1941.7,1320.9 1943.5,1321 1945.3,1321.1 1947.1,1321.3 1948.9,1321.4 1950.7,1321.6 1952.5,1321.7 1954.3,1321.9 1956.1,1322.1 1957.9,1322.3 1959.7,1322.5 1961.5,1322.6 1963.2,1322.8 1965,1323 1966.8,1323.2 1968.6,1323.4 1970.4,1323.7 1972.2,1323.9 1974,1324.1 1975.7,1324.4 1977.5,1324.6 1979.3,1324.9 1981.1,1325.2 1982.9,1325.5 1984.6,1325.8 1986.4,1326.2 1988.2,1326.5 1989.9,1326.9 1991.7,1327.3 1993.4,1327.8 1995.1,1328.3 1996.8,1328.9 1998.5,1329.5 2000.2,1330.1 2001.9,1330.8 2003.5,1331.5 2005.2,1332.3 2006.8,1333.1 2008.4,1333.9 2010,1334.7 2011.6,1335.5 2013.2,1336.4 2014.7,1337.3 2016.3,1338.2 2017.8,1339.2 2019.3,1340.2 2020.8,1341.2 2022.2,1342.3 2023.6,1343.4 2025,1344.5 2026.4,1345.7 2027.7,1346.9 2029.1,1348.1 2030.4,1349.3 2031.7,1350.6 2032.9,1351.9 2034.2,1353.2 2035.4,1354.5 2036.6,1355.8 2037.8,1357.1 2039,1358.5 2040.2,1359.8 2041.4,1361.2 2042.5,1362.6 2043.6,1364 2044.7,1365.5 2045.8,1366.9 2046.8,1368.4 2047.8,1369.9 2048.9,1371.4 2049.9,1372.8 2050.9,1374.3 2051.9,1375.8 2052.9,1377.3 2053.9,1378.8 2055,1380.3 2056,1381.7 2057.1,1383.2 2058.1,1384.6 2059.2,1386.1 2060.2,1387.6 2061.3,1389 2062.3,1390.5 2063.4,1392 2064.4,1393.4 2065.4,1394.9 2066.5,1396.4 2067.5,1397.9 2068.5,1399.4 2069.4,1400.9 2070.4,1402.4 2071.3,1404 2072.2,1405.5 2073.2,1407.1 2074.1,1408.6 2074.9,1410.2 2075.8,1411.8 2076.7,1413.3 2077.6,1414.9 2078.4,1416.5 2079.3,1418.1 2080.2,1419.6 2081,1421.2 2081.9,1422.8 2082.8,1424.3 2083.7,1425.9 2084.6,1427.5 2085.5,1429 2086.4,1430.6 2087.4,1432.1 2088.3,1433.6 2089.3,1435.2 2090.2,1436.7 2091.2,1438.2 2092.1,1439.7 2093.1,1441.3 2094,1442.8 2095,1444.3 2096,1445.8 2096.9,1447.4 2097.9,1448.9 2098.8,1450.4 2099.8,1451.9 2100.3,1452.5 2099.5,1450.9 2098.7,1449.2 2098,1447.6 2097.2,1446 2097.8,1446.5 2099.1,1447.8 2100.3,1449.1 2101.5,1450.5 2102.7,1451.8 2103.9,1453.1 2105.2,1454.4 2106.4,1455.7 2107.7,1456.9 2109,1458.2 2110.3,1459.4 2111.6,1460.6 2113,1461.9 2114.3,1463.1 2115.6,1464.3 2117,1465.5 2118.4,1466.6 2119.8,1467.7 2121.2,1468.8 2122.7,1469.8 2124.2,1470.8 2125.7,1471.8 2127.3,1472.7 2128.8,1473.6 2130.4,1474.5 2132,1475.4 2133.6,1476.2 2135.2,1477 2136.9,1477.6 2138.6,1478.2 2140.3,1478.6 2142.1,1478.9 2143.9,1479.3 2145.6,1479.6 2147.4,1479.9 2149.2,1480.2 2151,1480.4 2152.8,1480.6 2154.6,1480.8 2156.4,1480.9 2158.2,1481 2160,1481 2161.8,1481 2163.6,1481 2165.4,1481 2167.2,1481 2169,1481 2170.8,1481 2172.6,1481 2174.4,1481 2176.2,1481 2178,1481 2179.8,1481 2181.6,1481 2183.4,1481 2185.2,1481 2187,1481 2188.8,1481 2190.6,1481 2192.4,1481 2194.2,1481 2196,1481 2197.8,1481 2199.6,1481 2201.4,1481 2203.2,1481 2205,1481" stroke="#00f" marker-start="url(#m_blue)" marker-mid="url(#m_blue)" marker-end="url(#m_blue)"/>
<polyline points="216.4,163.5 218.2,163.5 220,163.5 221.8,163.5 223.6,163.5 225.4,163.5 227.2,163.5 229,163.5 230.8,163.5 232.6,163.5 234.4,163.5 236.2,163.5 238,163.5 239.8,163.5 241.6,163.5 243.4,163.7 245.2,164.1 247,164.4 248.8,164.7 250.6,165 252.4,165.3 254.2,165.6 256,165.9 257.8,166.3 259.6,166.6 261.4,166.9 263.2,167.2 265,167.5 266.8,167.8 268.6,168.2 270.4,168.5 272.2,168.8 274,163.5 275.8,163.5 277.6,163.5 279.4,163.5 281.2,163.5 283,163.5 284.8,163.5 286.6,163.5 288.4,163.5 290.2,163.5 292,163.5 293.8,163.5 295.6,163.5 297.4,163.5 299.2,163.5 301,163.5 302.8,163.5 304.6,163.5 306.4,163.5 308.2,163.5 310,163.5 311.8,163.7 313.6,163.9 315.4,164.1 317.2,164.3 319,164.6 320.8,164.8 322.6,165 324.4,165.2 326.2,165.4 328,165.7 329.8,165.9 331.6,166.1 333.4,166.3 335.2,166.5 337,166.7 338.8,167 340.6,167.2 342.4,167.4 344.2,167.6 346,167.8 347.8,168.1 349.6,168.3 351.4,168.5 353.2,168.7 355,168.9 356.8,163.5 358.6,163.5 360.4,163.5 362.2,163.5 364,163.5 365.8,163.5 367.6,163.5 369.4,163.5 371.2,163.5 373,163.5 374.8,163.5 376.6,163.5 378.4,163.5 380.2,163.5 382,163.5 383.8,163.5 385.6,163.5 387.4,163.5 389.2,163.5 391,163.7 392.8,163.9 394.6,164.1 396.4,164.4 398.2,164.6 400,164.8 401.8,165.1 403.6,165.3 405.4,165.5 407.2,165.8 409,166 410.8,166.2 412.6,166.5 414.4,166.7 416.2,167 418,167.2 419.8,167.4 421.6,167.7 423.4,167.9 425.2,168.1 427,168.4 428.8,168.6 430.6,168.8 432.4,163.5 434.2,163.5 436,163.5 437.8,163.5 439.6,163.5 441.4,163.5 443.2,163.5 445,163.5 446.8,163.5 448.6,163.5 450.4,163.5 452.2,163.5 454,163.5 455.8,163.5 457.6,163.5 459.4,163.5 461.2,163.6 463,163.9 464.8,164.2 466.6,164.5 468.4,164.7 470.2,165 472,165.3 473.8,165.6 475.6,165.9 477.4,166.2 479.2,166.4 481,166.7 482.8,167 484.6,167.3 486.4,167.6 488.2,167.9 490,168.1 491.8,168.4 493.6,168.7 495.4,169 497.2,163.5 499,163.5 500.8,163.5 502.6,163.5 504.4,163.5 506.2,163.5 508,163.5 509.8,163.5 511.6,163.5 513.4,163.5 515.2,163.5 517,163.5 518.8,163.5 520.6,163.5 522.4,163.5 524.2,163.8 526,164.1 527.8,164.4 529.6,164.7 531.4,165 533.2,165.3 535,165.6 536.8,165.9 538.6,166.2 540.4,166.5 542.2,166.8 544,167.1 545.8,167.4 547.6,167.7 549.4,168 551.2,168.3 553,168.6 554.8,168.9 556.6,163.5 558.4,163.5 560.2,163.5 562,163.5 563.8,163.5 565.6,163.5 567.4,163.5 569.2,163.5 571,163.5 572.8,163.5 574.6,163.5 576.4,163.5 578.2,163.5 580,163.5 581.8,163.5 583.6,163.5 585.4,163.5 587.2,163.5 589,163.8 590.8,164.1 592.6,164.3 594.4,164.6 596.2,164.8 598,165.1 599.8,165.4 601.6,165.6 603.4,165.9 605.2,166.1 607,166.4 608.8,166.6 610.6,166.9 612.4,167.2 614.2,167.4 616,167.7 617.8,167.9 619.6,168.2 621.4,168.5 623.2,181 625,169 626.8,163.5 628.6,163.5 630.4,163.5 632.2,163.5 634,163.5 635.8,163.5 637.6,163.5 639.4,163.5 641.2,163.5 643,163.5 644.8,163.5 646.6,163.5 648.4,163.5 650.2,163.5 652,163.5 653.8,163.5 655.6,163.5 657.4,163.6 659.2,163.9 661,164.1 662.8,164.4 664.6,164.7 666.4,164.9 668.2,165.2 670,165.4 671.8,165.7 673.6,165.9 675.4,166.2 677.2,166.5 679,166.7 680.8,167 682.6,167.2 684.4,167.5 686.2,167.8 688,168 689.8,168.3 691.6,168.5 693.4,168.8 695.2,163.5 697,163.5 698.8,163.5 700.6,163.5 702.4,163.5 704.2,163.5 706,163.5 707.8,163.5 709.6,163.5 711.4,163.5 713.2,163.5 715,163.5 716.8,163.5 718.6,163.5 720.4,163.5 722.2,163.5 724,163.5 725.8,163.5 727.6,163.5 731,163.5 732.8,163.6 734.6,163.7 736.4,164.1 738.2,164.5 740,165 741.8,165.7 743.6,166.5 745.4,167.3 747.2,168.3 749,169.4 750.8,170.5 752.6,171.7 754.4,173 756.2,174.3 758,175.7 759.8,177.1 761.6,178.6 763.4,180 765.2,181.5 767,182.9 768.8,184.4 770.6,185.8 772.4,187.1 774.2,188.4 776,189.7 777.8,190.9 779.6,192 781.4,193 783.2,194 785,194.8 786.8,195.5 788.6,196.2 790.4,196.7 792.2,197.1 794,197.3 795.8,197.5 797,197.5 798.8,197.1 800.6,196.8 802.4,196.4 804.2,196.1 806,195.7 807.8,195.3 809.6,195 811.4,194.6 813.2,194.3 815,193.9 816.8,193.5 818.6,193.2 820.4,192.8 822.2,192.5 824,192.1 825.8,191.7 827.6,194.7 829.4,197.3 831.2,197 833,196.7 834.8,196.3 836.6,196 838.4,195.7 840.2,195.4 842,195 843.8,194.7 845.6,194.4 847.4,194 849.2,193.7 851,193.4 852.8,193 854.6,192.7 856.4,192.4 858.2,192.1 860,191.7 861.8,191.4 863.6,191.1 865.4,190.7 867.2,190.4 869,190.1 870.8,189.8 872.6,189.4 874.4,189.1 876.2,188.8 878,188.8 879.8,188.8 881.6,188.8 883.4,188.8 885.2,188.8 887,188.8 888.8,188.8 890.6,188.8 892.4,188.8 894.2,188.8 896,188.8 897.8,188.8 899.6,188.8 901.4,188.8 903.2,188.8 905,188.9 906.8,188.9 908.6,188.9 910.4,188.9 912.2,188.9 914,188.9 915.8,188.9 917.6,188.9 919.4,189.2 921.2,190.8 923,192.4 924.8,193.9 926.6,193.9 928.4,193.6 930.2,193.4 932,193.1 933.8,192.8 935.6,192.6 937.4,192.3 939.2,192.1 941,191.8 942.8,191.6 944.6,191.3 946.4,191.1 948.2,190.8 950,190.5 951.8,190.3 953.6,190 955.4,189.8 957.2,189.5 959,189.3 960.8,189 962.6,191.7 964.4,196.7 966.2,196.7 968,196.3 969.8,196 971.6,195.6 973.4,195.3 975.2,194.9 977,194.6 978.8,194.2 980.6,193.9 982.4,193.6 984.2,193.2 986,192.9 987.8,192.5 989.6,192.2 991.4,191.9 993.2,191.9 995,191.9 996.8,191.9 998.6,191.9 1000.4,191.9 1002.2,191.9 1004,191.9 1005.8,191.9 1007.6,191.9 1009.4,191.9 1011.2,191.9 1013,191.9 1014.8,191.9 1016.6,191.9 1018.4,191.9 1020.2,191.9 1022,192.5 1023.8,197.4 1025.6,199.7 1027.4,199.4 1029.2,199.1 1031,198.8 1032.8,198.5 1034.6,198.2 1036.4,197.8 1038.2,197.5 1040,197.2 1041.8,196.9 1043.6,196.6 1045.4,196.2 1047.2,195.9 1049,195.6 1050.8,195.3 1052.6,195 1054.4,194.7 1056.2,194.3 1058,194 1059.8,193.7 1061.6,193.4 1063.4,193.1 1065.2,192.7 1067,192.4 1068.8,192.1 1070.6,191.8 1072.4,191.5 1074.2,191.2 1076,190.8 1077.8,190.5 1079.6,190.2 1081.4,189.9 1083.2,189.6 1085,189.3 1086.8,188.9 1088.6,187.6 1093,264.5 1097,263.6 1101,262.6 1105,261.6 1109,260.7 1113,259.8 1117,258.8 1121,257.9 1125,256.9 1131,310 1134.7,416.6 1139.9,515 1143,588 1145,608 1145.2,609.8 1145.4,611.6 1145.7,613.4 1145.9,615.1 1146.1,616.9 1146.3,618.7 1146.6,620.5 1146.8,622.3 1147.1,624.1 1147.4,625.8 1147.8,627.6 1148.2,629.4 1148.6,631.1 1149,632.8 1149.5,634.6 1150,636.3 1150.4,638.1 1150.9,639.8 1151.3,641.6 1151.7,643.3 1152,645.1 1152.3,646.9 1152.6,648.6 1152.8,650.4 1153,652.2 1153.2,654 1153.4,655.8 1153.6,657.6 1153.8,659.4 1153.9,661.2 1154.1,663 1154.2,664.8 1154.4,666.5 1154.6,668.3 1154.7,670.1 1154.9,671.9 1155.1,673.7 1155.2,675.5 1155.4,677.3 1155.6,679.1 1155.8,680.9 1156,682.7 1156.2,684.5 1156.4,686.2 1156.6,688 1156.8,689.8 1157,691.6 1157.2,693.4 1157.4,695.2 1157.6,697 1157.8,698.8 1158.1,700.5 1158.3,702.3 1158.6,704.1 1158.8,705.9 1159.1,707.7 1159.4,709.5 1159.6,711.2 1159.9,713 1160.2,714.8 1160.5,716.6 1160.8,718.3 1161.1,720.1 1161.4,721.9 1161.8,723.7 1162.1,725.4 1162.4,727.2 1162.8,729 1163.1,730.7 1163.4,732.5 1163.8,734.3 1164.2,736 1164.5,737.8 1164.9,739.5 1165.3,741.3 1165.7,743.1 1166.1,744.8 1166.5,746.6 1167,748.3 1167.5,750 1167.9,751.8 1168.4,753.5 1168.9,755.2 1169.4,757 1169.9,758.7 1170.4,760.4 1170.8,762.2 1171.3,763.9 1171.8,765.6 1172.3,767.4 1172.7,769.1 1173.2,770.9 1173.7,772.6 1174.2,774.3 1174.6,776.1 1175.1,777.8 1175.6,779.5 1176.1,781.3 1176.5,783 1177,784.7 1177.5,786.5 1178,788.2 1178.5,789.9 1179,791.7 1179.4,793.4 1179.9,795.1 1180.4,796.9 1180.9,798.6 1181.4,800.3 1182,802.1 1182.5,803.8 1183,805.5 1183.5,807.2 1184,808.9 1184.6,810.7 1185.1,812.4 1185.6,814.1 1186.2,815.8 1186.8,817.5 1187.3,819.2 1187.9,820.9 1188.5,822.6 1189.1,824.3 1189.7,826 1190.3,827.7 1190.9,829.4 1191.5,831.1 1192.2,832.8 1192.8,834.5 1193.4,836.2 1194.1,837.9 1194.7,839.5 1195.3,841.2 1195.9,842.9 1196.6,844.6 1197.2,846.3 1197.8,848 1198.5,849.7 1199.1,851.3 1199.7,853 1200.4,854.7 1201,856.4 1201.6,858.1 1202.3,859.8 1202.9,861.4 1203.6,863.1 1204.2,864.8 1204.9,866.5 1205.5,868.2 1206.2,869.8 1206.9,871.5 1207.5,873.2 1208.2,874.8 1208.9,876.5 1209.6,878.2 1210.3,879.8 1211,881.5 1211.7,883.1 1212.4,884.8 1213.1,886.4 1213.8,888.1 1214.6,889.7 1215.3,891.4 1216,893 1216.8,894.7 1217.5,896.3 1218.3,897.9 1219,899.6 1219.8,901.2 1220.5,902.8 1221.3,904.5 1222.1,906.1 1222.8,907.7 1223.6,909.3 1224.4,911 1225.2,912.6 1226,914.2 1226.8,915.8 1227.6,917.4 1228.4,919 1229.2,920.6 1230.1,922.2 1230.9,923.8 1231.7,925.4 1232.6,927 1233.4,928.6 1234.3,930.2 1235.1,931.8 1236,933.3 1236.9,934.9 1237.8,936.5 1238.6,938 1239.5,939.6 1240.4,941.2 1241.3,942.7 1242.3,944.3 1243.2,945.8 1244.1,947.4 1245,948.9 1246,950.4 1246.9,952 1247.9,953.5 1248.8,955 1249.8,956.5 1250.8,958.1 1251.7,959.6 1252.7,961.1 1253.7,962.6 1254.7,964.1 1255.7,965.6 1256.7,967.1 1257.7,968.5 1258.8,970 1259.8,971.5 1260.9,972.9 1261.9,974.4 1263,975.8 1264.1,977.3 1265.2,978.7 1266.3,980.1 1267.4,981.6 1268.5,983 1269.6,984.4 1270.7,985.8 1271.8,987.2 1272.9,988.7 1274,990.1 1275.1,991.5 1276.2,992.9 1277.3,994.3 1278.5,995.8 1279.5,997.2 1280.6,998.6 1281.7,1000 1282.8,1001.5 1283.9,1002.9 1285,1004.4 1286,1005.8 1287.1,1007.3 1288.2,1008.7 1289.2,1010.2 1290.3,1011.6 1291.3,1013.1 1292.4,1014.6 1293.4,1016 1294.5,1017.5 1295.5,1018.9 1296.6,1020.4 1297.7,1021.9 1298.7,1023.3 1299.8,1024.8 1300.8,1026.2 1301.9,1027.7 1303,1029.1 1304.1,1030.5 1305.2,1032 1306.3,1033.4 1307.4,1034.8 1308.5,1036.2 1309.6,1037.7 1310.7,1039.1 1311.8,1040.5 1313,1041.8 1314.1,1043.2 1315.3,1044.6 1316.5,1046 1317.7,1047.3 1318.9,1048.6 1320.1,1050 1321.3,1051.3 1322.5,1052.6 1323.8,1053.9 1325,1055.2 1326.3,1056.5 1327.5,1057.8 1328.8,1059.1 1330,1060.4 1331.3,1061.7 1332.6,1063 1333.8,1064.2 1335.1,1065.5 1336.4,1066.8 1337.6,1068.1 1338.9,1069.4 1340.1,1070.6 1341.4,1071.9 1342.7,1073.2 1343.9,1074.5 1345.2,1075.8 1346.4,1077.1 1347.7,1078.4 1348.9,1079.7 1350.2,1081 1351.4,1082.3 1352.7,1083.6 1353.9,1084.9 1355.2,1086.2 1356.4,1087.5 1357.7,1088.8 1358.9,1090.1 1360.2,1091.3 1361.4,1092.6 1362.7,1093.9 1363.9,1095.2 1365.2,1096.5 1366.4,1097.8 1367.7,1099.1 1369,1100.4 1370.2,1101.7 1371.5,1102.9 1372.8,1104.2 1374,1105.5 1375.3,1106.8 1376.6,1108 1377.9,1109.3 1379.1,1110.6 1380.4,1111.8 1381.7,1113.1 1383,1114.3 1384.3,1115.6 1385.6,1116.8 1386.9,1118.1 1388.2,1119.3 1389.5,1120.5 1390.8,1121.8 1392.2,1123 1393.5,1124.2 1394.8,1125.4 1396.2,1126.6 1397.5,1127.8 1398.9,1129 1400.2,1130.2 1401.6,1131.4 1402.9,1132.5 1404.3,1133.7 1405.7,1134.9 1407,1136.1 1408.4,1137.2 1409.8,1138.4 1411.1,1139.5 1412.5,1140.7 1413.9,1141.9 1415.3,1143 1416.7,1144.1 1418.1,1145.3 1419.5,1146.4 1420.9,1147.5 1422.3,1148.7 1423.7,1149.8 1425.1,1150.9 1426.5,1152 1428,1153.1 1429.4,1154.2 1430.8,1155.3 1432.3,1156.4 1433.7,1157.5 1435.1,1158.5 1436.6,1159.6 1438,1160.7 1439.5,1161.7 1441,1162.8 1442.4,1163.8 1443.9,1164.8 1445.4,1165.9 1446.9,1166.9 1448.4,1167.9 1449.9,1168.9 1451.4,1169.9 1452.9,1170.9 1454.4,1171.9 1455.9,1172.8 1457.4,1173.8 1458.9,1174.8 1460.5,1175.7 1462,1176.6 1463.5,1177.6 1465.1,1178.5 1466.6,1179.4 1468.2,1180.3 1469.7,1181.3 1471.3,1182.2 1472.8,1183.1 1474.4,1184 1476,1184.8 1477.5,1185.7 1479.1,1186.6 1480.7,1187.5 1482.3,1188.4 1483.8,1189.2 1485.4,1190.1 1487,1190.9 1488.6,1191.8 1490.2,1192.7 1491.7,1193.5 1493.3,1194.4 1494.9,1195.2 1496.5,1196 1498.1,1196.9 1499.7,1197.7 1501.3,1198.6 1502.9,1199.4 1504.5,1200.2 1506.1,1201.1 1507.7,1201.9 1509.3,1202.7 1510.9,1203.5 1512.5,1204.3 1514.1,1205.2 1515.7,1206 1517.3,1206.8 1518.9,1207.6 1520.5,1208.4 1522.2,1209.1 1523.8,1209.9 1525.4,1210.7 1527,1211.5 1528.6,1212.3 1530.3,1213 1531.9,1213.8 1533.5,1214.6 1535.1,1215.4 1536.8,1216.1 1538.4,1216.9 1540,1217.6 1541.7,1218.4 1543.3,1219.1 1544.9,1219.9 1546.6,1220.6 1548.2,1221.4 1549.9,1222.1 1551.5,1222.9 1553.1,1223.6 1554.8,1224.4 1556.4,1225.1 1558.1,1225.8 1559.7,1226.5 1561.4,1227.3 1563,1228 1564.7,1228.7 1566.3,1229.4 1568,1230.1 1569.6,1230.9 1571.3,1231.6 1572.9,1232.3 1574.6,1233 1576.2,1233.7 1577.9,1234.4 1579.6,1235.1 1581.2,1235.8 1582.9,1236.5 1584.5,1237.2 1586.2,1237.8 1587.9,1238.5 1589.5,1239.2 1591.2,1239.9 1592.9,1240.6 1594.5,1241.2 1596.2,1241.9 1597.9,1242.6 1599.6,1243.3 1601.2,1243.9 1602.9,1244.6 1604.6,1245.2 1606.3,1245.9 1607.9,1246.5 1609.6,1247.2 1611.3,1247.8 1613,1248.5 1614.6,1249.1 1616.3,1249.8 1618,1250.4 1619.7,1251.1 1621.4,1251.7 1623.1,1252.4 1624.7,1253 1626.4,1253.6 1628.1,1254.3 1629.8,1254.9 1631.5,1255.5 1633.2,1256.1 1634.9,1256.7 1636.6,1257.4 1638.2,1258 1639.9,1258.6 1641.6,1259.2 1643.3,1259.8 1645,1260.4 1646.7,1261 1648.4,1261.6 1650.1,1262.2 1651.8,1262.8 1653.5,1263.3 1655.2,1263.9 1656.9,1264.5 1658.7,1265.1 1660.4,1265.6 1662.1,1266.2 1663.8,1266.7 1665.5,1267.3 1667.2,1267.8 1668.9,1268.4 1670.6,1268.9 1672.4,1269.5 1674.1,1270 1675.8,1270.6 1677.5,1271.1 1679.2,1271.6 1680.9,1272.2 1682.7,1272.7 1684.4,1273.2 1686.1,1273.7 1687.8,1274.2 1689.6,1274.8 1691.3,1275.3 1693,1275.8 1694.7,1276.3 1696.5,1276.8 1698.2,1277.3 1699.9,1277.8 1701.7,1278.3 1703.4,1278.8 1705.1,1279.3 1706.9,1279.7 1708.6,1280.2 1710.3,1280.7 1712.1,1281.2 1713.8,1281.7 1715.5,1282.1 1717.3,1282.6 1719,1283.1 1720.7,1283.6 1722.5,1284 1724.2,1284.5 1726,1285 1727.7,1285.4 1729.4,1285.9 1731.2,1286.3 1732.9,1286.8 1734.7,1287.2 1736.4,1287.7 1738.2,1288.1 1739.9,1288.6 1741.6,1289 1743.4,1289.5 1745.1,1289.9 1746.9,1290.3 1748.6,1290.8 1750.4,1291.2 1752.1,1291.6 1753.9,1292.1 1755.6,1292.5 1757.4,1292.9 1759.1,1293.3 1760.9,1293.7 1762.6,1294.1 1764.4,1294.5 1766.1,1294.9 1767.9,1295.3 1769.7,1295.7 1771.4,1296.1 1773.2,1296.5 1774.9,1296.9 1776.7,1297.3 1778.4,1297.7 1780.2,1298 1782,1298.4 1783.7,1298.8 1785.5,1299.2 1787.2,1299.6 1789,1299.9 1790.8,1300.3 1792.5,1300.7 1794.3,1301 1796,1301.4 1797.8,1301.8 1799.6,1302.1 1801.3,1302.5 1803.1,1302.8 1804.9,1303.2 1806.6,1303.5 1808.4,1303.8 1810.2,1304.2 1811.9,1304.5 1813.7,1304.8 1815.5,1305.2 1817.3,1305.5 1819,1305.8 1820.8,1306.1 1822.6,1306.4 1824.4,1306.7 1826.1,1307 1827.9,1307.3 1829.7,1307.6 1831.5,1307.8 1833.2,1308.1 1835,1308.4 1836.8,1308.7 1838.6,1308.9 1840.4,1309.2 1842.1,1309.5 1843.9,1309.7 1845.7,1310 1847.5,1310.3 1849.3,1310.5 1851,1310.8 1852.8,1311 1854.6,1311.3 1856.4,1311.5 1858.2,1311.7 1860,1312 1861.7,1312.2 1863.5,1312.5 1865.3,1312.7 1867.1,1312.9 1868.9,1313.1 1870.7,1313.4 1872.5,1313.6 1874.2,1313.8 1876,1314 1877.8,1314.2 1879.6,1314.5 1881.4,1314.7 1883.2,1314.9 1885,1315.1 1886.8,1315.3 1888.5,1315.5 1890.3,1315.7 1892.1,1315.9 1893.9,1316.1 1895.7,1316.3 1897.5,1316.5 1899.3,1316.7 1901.1,1316.8 1902.9,1317 1904.7,1317.2 1906.4,1317.4 1908.2,1317.6 1910,1317.7 1911.8,1317.9 1913.6,1318.1 1915.4,1318.2 1917.2,1318.4 1919,1318.5 1920.8,1318.7 1922.6,1318.8 1924.4,1319 1926.2,1319.1 1928,1319.2 1929.8,1319.4 1931.6,1319.5 1933.4,1319.6 1935.2,1319.7 1936.9,1319.8 1938.7,1320 1940.5,1320.1 1942.3,1320.2 1944.1,1320.4 1945.9,1320.5 1947.7,1320.7 1949.5,1320.8 1951.3,1321 1953.1,1321.2 1954.9,1321.4 1956.7,1321.6 1958.5,1321.7 1960.3,1321.9 1962,1322.1 1963.8,1322.4 1965.6,1322.6 1967.4,1322.8 1969.2,1323 1971,1323.3 1972.7,1323.5 1974.5,1323.8 1976.3,1324.1 1978.1,1324.4 1979.9,1324.7 1981.6,1325 1983.4,1325.4 1985.2,1325.7 1986.9,1326.1 1988.7,1326.6 1990.4,1327.1 1992.1,1327.6 1993.8,1328.2 1995.5,1328.8 1997.2,1329.5 1998.8,1330.2 2000.5,1330.9 2002.1,1331.7 2003.7,1332.5 2005.3,1333.3 2006.9,1334.2 2008.5,1335 2010,1335.9 2011.6,1336.8 2013.1,1337.8 2014.6,1338.7 2016.1,1339.7 2017.6,1340.8 2019,1341.9 2020.4,1343 2021.8,1344.2 2023.2,1345.4 2024.5,1346.6 2025.8,1347.8 2027.1,1349.1 2028.4,1350.3 2029.6,1351.6 2030.9,1352.9 2032.1,1354.2 2033.3,1355.6 2034.5,1356.9 2035.7,1358.2 2036.9,1359.6 2038,1361 2039.1,1362.4 2040.2,1363.8 2041.3,1365.3 2042.4,1366.8 2043.4,1368.2 2044.4,1369.7 2045.4,1371.2 2046.5,1372.7 2047.5,1374.2 2048.5,1375.7 2049.5,1377.1 2050.5,1378.6 2051.6,1380.1 2052.6,1381.5 2053.7,1383 2054.7,1384.5 2055.8,1385.9 2056.8,1387.4 2057.9,1388.8 2058.9,1390.3 2060,1391.8 2061,1393.3 2062,1394.7 2063,1396.2 2064,1397.7 2065,1399.2 2066,1400.8 2066.9,1402.3 2067.8,1403.8 2068.8,1405.4 2069.7,1406.9 2070.6,1408.5 2071.4,1410.1 2072.3,1411.6 2073.2,1413.2 2074.1,1414.8 2074.9,1416.4 2075.8,1417.9 2076.7,1419.5 2077.5,1421.1 2078.4,1422.7 2079.3,1424.2 2080.2,1425.8 2081.1,1427.3 2082,1428.9 2082.9,1430.4 2083.9,1432 2084.8,1433.6 2085.7,1435.1 2086.6,1436.7 2087.5,1438.2 2088.4,1439.8 2089.3,1441.3 2090.3,1442.8 2091.2,1444.4 2092.2,1445.9 2093.2,1447.4 2094.2,1448.9 2095.3,1450.3 2096.3,1451.8 2097.4,1453.2 2098.5,1454.6 2099.7,1456 2100.9,1457.4 2102,1458.7 2103.2,1460.1 2104.5,1461.4 2105.7,1462.7 2107,1463.9 2108.3,1465.2 2109.6,1466.4 2111,1467.6 2112.4,1468.7 2113.8,1469.8 2115.2,1470.9 2116.7,1471.9 2118.2,1473 2119.7,1474 2121.2,1474.9 2122.8,1475.8 2124.3,1476.7 2125.9,1477.6 2127.5,1478.5 2129.1,1479.3 2130.7,1480.1 2132.3,1480.9 2133.9,1481.6 2135.6,1482.4 2137.2,1483.1 2138.9,1483.7 2140.6,1484.4 2142.3,1485 2144,1485.5 2145.7,1486.1 2147.5,1486.6 2149.2,1487.1 2150.9,1487.6 2152.6,1488.1 2154.4,1488.5 2156.1,1488.9 2157.9,1489.2 2159.7,1489.4 2161.5,1489.5 2163.3,1489.5 2165.1,1489.5 2166.9,1489.5 2168.7,1489.6 2170.5,1489.6 2172.3,1489.6 2174.1,1489.6 2175.9,1489.6 2177.7,1489.6 2179.5,1489.6 2181.3,1489.6 2183.1,1489.6 2184.9,1489.6 2186.7,1489.6 2188.5,1489.6 2190.3,1489.7 2192.1,1489.7 2193.9,1489.7 2195.7,1489.7 2197.5,1489.7 2199.3,1489.7 2201.1,1489.7 2202.9,1489.7 2204.7,1489.7" stroke="#0ff" marker-start="url(#m_cyan)" marker-mid="url(#m_cyan)" marker-end="url(#m_cyan)"/>
</g>
<rect x="2204.2" y="1466" width="4.3" height="46" fill="#008c96"/>
<rect x="2204.2" y="1459" width="3.3" height="7" fill="#7a1a10"/>
<path stroke="#000" stroke-width="2.6" d="M324.5,1034H381.5M425.5,1034H482.7"/>
<g transform="translate(403.6,1034)" fill="#000"><rect x="-16" y="-15.6" width="32" height="31.2"/></g>
<text transform="translate(501.18,1057.00) scale(1.0211,1)" font-family="Liberation Sans, sans-serif" font-size="70.0" fill="#000">Pure PEDOT:PSS</text>
<path stroke="#f00" stroke-width="2.6" stroke-opacity=".8" d="M324.5,1121H381.5M425.5,1121H482.7"/>
<g transform="translate(403.6,1121)" fill="#f00"><ellipse rx="17.4" ry="17.4"/></g>
<text transform="translate(502.35,1143.50) scale(1.0175,1)" font-family="Liberation Sans, sans-serif" font-size="70.0" fill="#000">0.01-P3HT/PEDOT:PSS</text>
<path stroke="#0f0" stroke-width="2.6" stroke-opacity=".8" d="M324.5,1207.3H381.5M425.5,1207.3H482.7"/>
<g transform="translate(403.6,1207.3)" fill="#0f0"><path d="M0-24.4L21.5,12.4H-21.5Z"/></g>
<text transform="translate(502.35,1230.00) scale(1.0175,1)" font-family="Liberation Sans, sans-serif" font-size="70.0" fill="#000">0.02-P3HT/PEDOT:PSS</text>
<path stroke="#00f" stroke-width="2.6" stroke-opacity=".8" d="M324.5,1293.7H381.5M425.5,1293.7H482.7"/>
<g transform="translate(403.6,1293.7)" fill="#00f"><path d="M0,24.4L21.5-12.4H-21.5Z"/></g>
<text transform="translate(502.35,1316.50) scale(1.0175,1)" font-family="Liberation Sans, sans-serif" font-size="70.0" fill="#000">0.03-P3HT/PEDOT:PSS</text>
<path stroke="#0ff" stroke-width="2.6" stroke-opacity=".8" d="M324.5,1380H381.5M425.5,1380H482.7"/>
<g transform="translate(403.6,1380)" fill="#0ff"><path d="M0-21.8L23.3,0L0,21.8L-23.3,0Z"/></g>
<text transform="translate(502.35,1403.00) scale(1.0175,1)" font-family="Liberation Sans, sans-serif" font-size="70.0" fill="#000">0.04-P3HT/PEDOT:PSS</text>
<text transform="translate(169.60,1625.60) scale(0.9500,1)" font-family="Liberation Sans, sans-serif" font-size="59.0" fill="#000">300</text>
<text transform="translate(567.68,1625.60) scale(0.9500,1)" font-family="Liberation Sans, sans-serif" font-size="59.0" fill="#000">400</text>
<text transform="translate(964.92,1625.60) scale(0.9500,1)" font-family="Liberation Sans, sans-serif" font-size="59.0" fill="#000">500</text>
<text transform="translate(1362.30,1625.60) scale(0.9500,1)" font-family="Liberation Sans, sans-serif" font-size="59.0" fill="#000">600</text>
<text transform="translate(1759.96,1625.60) scale(0.9500,1)" font-family="Liberation Sans, sans-serif" font-size="59.0" fill="#000">700</text>
<text transform="translate(2157.76,1625.60) scale(0.9500,1)" font-family="Liberation Sans, sans-serif" font-size="59.0" fill="#000">800</text>
<text transform="translate(136.33,1546.20) scale(0.9500,1)" font-family="Liberation Sans, sans-serif" font-size="59.0" fill="#000">0</text>
<text transform="translate(136.89,1250.52) scale(0.9500,1)" font-family="Liberation Sans, sans-serif" font-size="59.0" fill="#000">1</text>
<text transform="translate(136.89,954.84) scale(0.9500,1)" font-family="Liberation Sans, sans-serif" font-size="59.0" fill="#000">2</text>
<text transform="translate(136.61,659.16) scale(0.9500,1)" font-family="Liberation Sans, sans-serif" font-size="59.0" fill="#000">3</text>
<text transform="translate(135.77,363.48) scale(0.9500,1)" font-family="Liberation Sans, sans-serif" font-size="59.0" fill="#000">4</text>
<text transform="translate(136.33,67.80) scale(0.9500,1)" font-family="Liberation Sans, sans-serif" font-size="59.0" fill="#000">5</text>
<text transform="translate(942.04,1738.60) scale(1.0195,1)" font-family="Liberation Sans, sans-serif" font-size="69.8" fill="#000">Wavelength (nm)</text>
<text transform="translate(85.2,1098.95) rotate(-90) scale(0.9947,1)" font-family="Liberation Sans, sans-serif" font-size="70.6" fill="#000">Absorption (a.u.)</text>
</svg>
</body></html>
